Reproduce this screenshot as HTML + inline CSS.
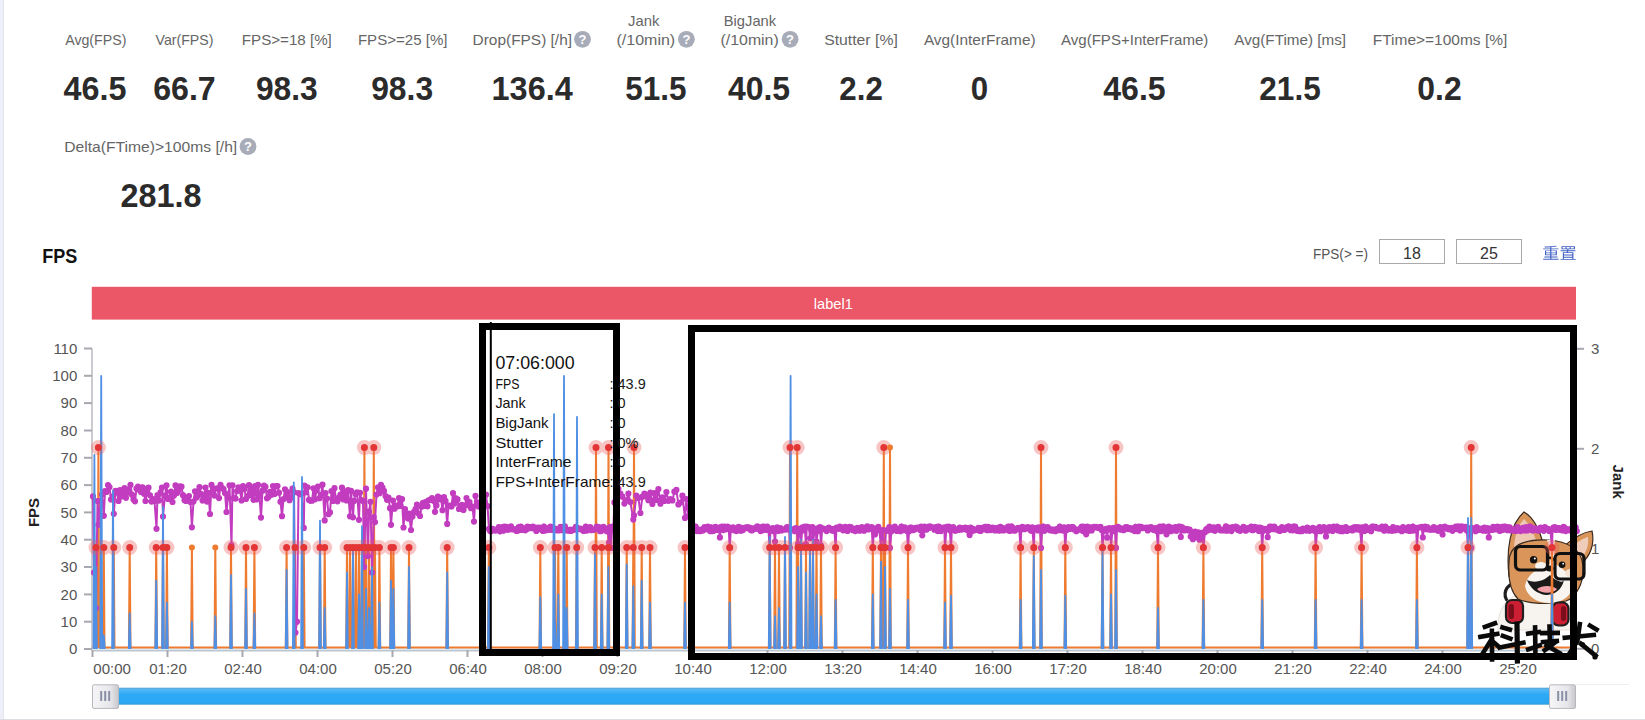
<!DOCTYPE html>
<html><head><meta charset="utf-8"><title>FPS</title>
<style>html,body{margin:0;padding:0;background:#fff;overflow:hidden}svg{display:block}text{font-family:"Liberation Sans",sans-serif}</style>
</head><body>
<svg width="1645" height="720" viewBox="0 0 1645 720">
<rect width="1645" height="720" fill="#fff"/>
<text x="65.2" y="45.0" font-size="14.5" fill="#666" text-anchor="start" font-weight="normal" textLength="61.2" lengthAdjust="spacingAndGlyphs">Avg(FPS)</text>
<text x="63.5" y="100.0" font-size="32.5" fill="#2b2b2b" text-anchor="start" font-weight="bold" textLength="62.9" lengthAdjust="spacingAndGlyphs">46.5</text>
<text x="155.5" y="45.0" font-size="14.5" fill="#666" text-anchor="start" font-weight="normal" textLength="57.9" lengthAdjust="spacingAndGlyphs">Var(FPS)</text>
<text x="153.2" y="100.0" font-size="32.5" fill="#2b2b2b" text-anchor="start" font-weight="bold" textLength="62.5" lengthAdjust="spacingAndGlyphs">66.7</text>
<text x="241.8" y="45.0" font-size="14.5" fill="#666" text-anchor="start" font-weight="normal" textLength="90.0" lengthAdjust="spacingAndGlyphs">FPS&gt;=18 [%]</text>
<text x="255.9" y="100.0" font-size="32.5" fill="#2b2b2b" text-anchor="start" font-weight="bold" textLength="61.8" lengthAdjust="spacingAndGlyphs">98.3</text>
<text x="357.9" y="45.0" font-size="14.5" fill="#666" text-anchor="start" font-weight="normal" textLength="89.6" lengthAdjust="spacingAndGlyphs">FPS&gt;=25 [%]</text>
<text x="371.2" y="100.0" font-size="32.5" fill="#2b2b2b" text-anchor="start" font-weight="bold" textLength="61.9" lengthAdjust="spacingAndGlyphs">98.3</text>
<text x="472.6" y="45.0" font-size="14.5" fill="#666" text-anchor="start" font-weight="normal" textLength="99.4" lengthAdjust="spacingAndGlyphs">Drop(FPS) [/h]</text>
<text x="491.6" y="100.0" font-size="32.5" fill="#2b2b2b" text-anchor="start" font-weight="bold" textLength="81.1" lengthAdjust="spacingAndGlyphs">136.4</text>
<text x="616.5" y="45.0" font-size="14.5" fill="#666" text-anchor="start" font-weight="normal" textLength="58.7" lengthAdjust="spacingAndGlyphs">(/10min)</text>
<text x="625.3" y="100.0" font-size="32.5" fill="#2b2b2b" text-anchor="start" font-weight="bold" textLength="61.2" lengthAdjust="spacingAndGlyphs">51.5</text>
<text x="720.6" y="45.0" font-size="14.5" fill="#666" text-anchor="start" font-weight="normal" textLength="58.1" lengthAdjust="spacingAndGlyphs">(/10min)</text>
<text x="727.9" y="100.0" font-size="32.5" fill="#2b2b2b" text-anchor="start" font-weight="bold" textLength="62.2" lengthAdjust="spacingAndGlyphs">40.5</text>
<text x="824.2" y="45.0" font-size="14.5" fill="#666" text-anchor="start" font-weight="normal" textLength="73.6" lengthAdjust="spacingAndGlyphs">Stutter [%]</text>
<text x="839.3" y="100.0" font-size="32.5" fill="#2b2b2b" text-anchor="start" font-weight="bold" textLength="43.5" lengthAdjust="spacingAndGlyphs">2.2</text>
<text x="923.9" y="45.0" font-size="14.5" fill="#666" text-anchor="start" font-weight="normal" textLength="111.7" lengthAdjust="spacingAndGlyphs">Avg(InterFrame)</text>
<text x="970.7" y="100.0" font-size="32.5" fill="#2b2b2b" text-anchor="start" font-weight="bold" textLength="17.4" lengthAdjust="spacingAndGlyphs">0</text>
<text x="1061.0" y="45.0" font-size="14.5" fill="#666" text-anchor="start" font-weight="normal" textLength="147.3" lengthAdjust="spacingAndGlyphs">Avg(FPS+InterFrame)</text>
<text x="1103.3" y="100.0" font-size="32.5" fill="#2b2b2b" text-anchor="start" font-weight="bold" textLength="62.4" lengthAdjust="spacingAndGlyphs">46.5</text>
<text x="1234.3" y="45.0" font-size="14.5" fill="#666" text-anchor="start" font-weight="normal" textLength="111.7" lengthAdjust="spacingAndGlyphs">Avg(FTime) [ms]</text>
<text x="1259.3" y="100.0" font-size="32.5" fill="#2b2b2b" text-anchor="start" font-weight="bold" textLength="61.4" lengthAdjust="spacingAndGlyphs">21.5</text>
<text x="1372.7" y="45.0" font-size="14.5" fill="#666" text-anchor="start" font-weight="normal" textLength="134.6" lengthAdjust="spacingAndGlyphs">FTime&gt;=100ms [%]</text>
<text x="1417.3" y="100.0" font-size="32.5" fill="#2b2b2b" text-anchor="start" font-weight="bold" textLength="44.4" lengthAdjust="spacingAndGlyphs">0.2</text>
<text x="628.0" y="26.1" font-size="14.5" fill="#666" text-anchor="start" font-weight="normal" textLength="31.3" lengthAdjust="spacingAndGlyphs">Jank</text>
<text x="723.8" y="26.1" font-size="14.5" fill="#666" text-anchor="start" font-weight="normal" textLength="52.3" lengthAdjust="spacingAndGlyphs">BigJank</text>
<circle cx="582.5" cy="39.3" r="8.4" fill="#a8acb8"/>
<text x="582.5" y="43.9" font-size="13" font-weight="bold" fill="#fff" text-anchor="middle">?</text>
<circle cx="686.4" cy="39.3" r="8.4" fill="#a8acb8"/>
<text x="686.4" y="43.9" font-size="13" font-weight="bold" fill="#fff" text-anchor="middle">?</text>
<circle cx="790.1" cy="39.3" r="8.4" fill="#a8acb8"/>
<text x="790.1" y="43.9" font-size="13" font-weight="bold" fill="#fff" text-anchor="middle">?</text>
<text x="64.2" y="152.2" font-size="14.5" fill="#666" text-anchor="start" font-weight="normal" textLength="173.0" lengthAdjust="spacingAndGlyphs">Delta(FTime)&gt;100ms [/h]</text>
<circle cx="248.0" cy="146.5" r="8.4" fill="#a8acb8"/>
<text x="248.0" y="151.1" font-size="13" font-weight="bold" fill="#fff" text-anchor="middle">?</text>
<text x="120.6" y="207.0" font-size="32.5" fill="#2b2b2b" text-anchor="start" font-weight="bold" textLength="81.0" lengthAdjust="spacingAndGlyphs">281.8</text>
<text x="42.2" y="263.0" font-size="20" fill="#111" text-anchor="start" font-weight="bold" textLength="35.1" lengthAdjust="spacingAndGlyphs">FPS</text>
<text x="1313" y="258.5" font-size="14" fill="#555" text-anchor="start" font-weight="normal" textLength="55" lengthAdjust="spacingAndGlyphs">FPS(&gt; =)</text>
<rect x="1379.5" y="239.5" width="65" height="24" fill="#fff" stroke="#a9a9a9" stroke-width="1"/>
<rect x="1456.5" y="239.5" width="65" height="24" fill="#fff" stroke="#a9a9a9" stroke-width="1"/>
<text x="1412" y="259" font-size="16" fill="#333" text-anchor="middle" font-weight="normal">18</text>
<text x="1489" y="259" font-size="16" fill="#333" text-anchor="middle" font-weight="normal">25</text>
<path transform="translate(1542.2,259.0) scale(1.08,1.0)" fill="#3f5fc4" d="M2.6 -8.6V-3.7H7.4V-2.5H2V-1.6H7.4V-0.2H0.9V0.7H15.2V-0.2H8.5V-1.6H14.2V-2.5H8.5V-3.7H13.6V-8.6H8.5V-9.7H15.1V-10.6H8.5V-11.9C10.4 -12 12.1 -12.2 13.5 -12.5L12.9 -13.3C10.4 -12.8 5.9 -12.5 2.1 -12.4C2.2 -12.2 2.4 -11.8 2.4 -11.6C4 -11.6 5.7 -11.7 7.4 -11.8V-10.6H0.9V-9.7H7.4V-8.6ZM3.6 -5.8H7.4V-4.5H3.6ZM8.5 -5.8H12.5V-4.5H8.5ZM3.6 -7.9H7.4V-6.6H3.6ZM8.5 -7.9H12.5V-6.6H8.5ZM26.4 -12H29.2V-10.5H26.4ZM22.6 -12H25.4V-10.5H22.6ZM18.9 -12H21.6V-10.5H18.9ZM19.1 -6.8V-0H16.9V0.8H31.1V-0H28.9V-6.8H23.8L24.1 -7.8H30.8V-8.7H24.2L24.4 -9.7H30.3V-12.8H17.9V-9.7H23.3L23.2 -8.7H17.1V-7.8H23L22.8 -6.8ZM20.1 -0V-1.1H27.8V-0ZM20.1 -4.4H27.8V-3.5H20.1ZM20.1 -5.1V-6.1H27.8V-5.1ZM20.1 -2.8H27.8V-1.8H20.1Z"/>
<rect x="91.8" y="286.8" width="1484.2" height="32.8" fill="#ec5767"/>
<text x="833.3" y="309.0" font-size="15" fill="#fff" text-anchor="middle" font-weight="normal" textLength="39" lengthAdjust="spacingAndGlyphs">label1</text>
<line x1="92" y1="348.5" x2="92" y2="650.5" stroke="#a8a8b0" stroke-width="1.2"/>
<line x1="84" y1="649.0" x2="92" y2="649.0" stroke="#a8a8b0" stroke-width="2"/>
<text x="77.3" y="654.3" font-size="15" fill="#555" text-anchor="end" font-weight="normal">0</text>
<line x1="84" y1="621.7" x2="92" y2="621.7" stroke="#a8a8b0" stroke-width="2"/>
<text x="77.3" y="626.9818181818181" font-size="15" fill="#555" text-anchor="end" font-weight="normal">10</text>
<line x1="84" y1="594.4" x2="92" y2="594.4" stroke="#a8a8b0" stroke-width="2"/>
<text x="77.3" y="599.6636363636363" font-size="15" fill="#555" text-anchor="end" font-weight="normal">20</text>
<line x1="84" y1="567.0" x2="92" y2="567.0" stroke="#a8a8b0" stroke-width="2"/>
<text x="77.3" y="572.3454545454545" font-size="15" fill="#555" text-anchor="end" font-weight="normal">30</text>
<line x1="84" y1="539.7" x2="92" y2="539.7" stroke="#a8a8b0" stroke-width="2"/>
<text x="77.3" y="545.0272727272727" font-size="15" fill="#555" text-anchor="end" font-weight="normal">40</text>
<line x1="84" y1="512.4" x2="92" y2="512.4" stroke="#a8a8b0" stroke-width="2"/>
<text x="77.3" y="517.7090909090908" font-size="15" fill="#555" text-anchor="end" font-weight="normal">50</text>
<line x1="84" y1="485.1" x2="92" y2="485.1" stroke="#a8a8b0" stroke-width="2"/>
<text x="77.3" y="490.39090909090913" font-size="15" fill="#555" text-anchor="end" font-weight="normal">60</text>
<line x1="84" y1="457.8" x2="92" y2="457.8" stroke="#a8a8b0" stroke-width="2"/>
<text x="77.3" y="463.07272727272726" font-size="15" fill="#555" text-anchor="end" font-weight="normal">70</text>
<line x1="84" y1="430.5" x2="92" y2="430.5" stroke="#a8a8b0" stroke-width="2"/>
<text x="77.3" y="435.75454545454545" font-size="15" fill="#555" text-anchor="end" font-weight="normal">80</text>
<line x1="84" y1="403.1" x2="92" y2="403.1" stroke="#a8a8b0" stroke-width="2"/>
<text x="77.3" y="408.43636363636364" font-size="15" fill="#555" text-anchor="end" font-weight="normal">90</text>
<line x1="84" y1="375.8" x2="92" y2="375.8" stroke="#a8a8b0" stroke-width="2"/>
<text x="77.3" y="381.1181818181818" font-size="15" fill="#555" text-anchor="end" font-weight="normal">100</text>
<line x1="84" y1="348.5" x2="92" y2="348.5" stroke="#a8a8b0" stroke-width="2"/>
<text x="77.3" y="353.8" font-size="15" fill="#555" text-anchor="end" font-weight="normal">110</text>
<text x="0" y="0" font-size="15" font-weight="bold" fill="#222" text-anchor="middle" transform="translate(38.6,512.5) rotate(-90)">FPS</text>
<line x1="1577" y1="648.8" x2="1584" y2="648.8" stroke="#a8a8b0" stroke-width="2"/>
<text x="1591" y="654.0999999999999" font-size="15" fill="#555" text-anchor="start" font-weight="normal">0</text>
<line x1="1577" y1="548.8" x2="1584" y2="548.8" stroke="#a8a8b0" stroke-width="2"/>
<text x="1591" y="554.0999999999999" font-size="15" fill="#555" text-anchor="start" font-weight="normal">1</text>
<line x1="1577" y1="448.8" x2="1584" y2="448.8" stroke="#a8a8b0" stroke-width="2"/>
<text x="1591" y="454.1" font-size="15" fill="#555" text-anchor="start" font-weight="normal">2</text>
<line x1="1577" y1="348.8" x2="1584" y2="348.8" stroke="#a8a8b0" stroke-width="2"/>
<text x="1591" y="354.1" font-size="15" fill="#555" text-anchor="start" font-weight="normal">3</text>
<text x="0" y="0" font-size="15" font-weight="bold" fill="#222" text-anchor="middle" transform="translate(1612.6,481.7) rotate(90)">Jank</text>
<line x1="92" y1="650.5" x2="1577.0" y2="650.5" stroke="#bcc6d0" stroke-width="2"/>
<line x1="92" y1="648.8" x2="1577.0" y2="648.8" stroke="#dff2f8" stroke-width="1.5"/>
<line x1="92.5" y1="650" x2="92.5" y2="657" stroke="#a8a8b0" stroke-width="2"/>
<text x="93.3" y="673.6" font-size="15" fill="#555" text-anchor="start" font-weight="normal" textLength="37.7" lengthAdjust="spacingAndGlyphs">00:00</text>
<line x1="167.5" y1="650" x2="167.5" y2="657" stroke="#a8a8b0" stroke-width="2"/>
<text x="168.0" y="673.6" font-size="15" fill="#555" text-anchor="middle" font-weight="normal" textLength="37.6" lengthAdjust="spacingAndGlyphs">01:20</text>
<line x1="242.5" y1="650" x2="242.5" y2="657" stroke="#a8a8b0" stroke-width="2"/>
<text x="243.0" y="673.6" font-size="15" fill="#555" text-anchor="middle" font-weight="normal" textLength="37.6" lengthAdjust="spacingAndGlyphs">02:40</text>
<line x1="317.5" y1="650" x2="317.5" y2="657" stroke="#a8a8b0" stroke-width="2"/>
<text x="318.0" y="673.6" font-size="15" fill="#555" text-anchor="middle" font-weight="normal" textLength="37.6" lengthAdjust="spacingAndGlyphs">04:00</text>
<line x1="392.5" y1="650" x2="392.5" y2="657" stroke="#a8a8b0" stroke-width="2"/>
<text x="393.0" y="673.6" font-size="15" fill="#555" text-anchor="middle" font-weight="normal" textLength="37.6" lengthAdjust="spacingAndGlyphs">05:20</text>
<line x1="467.5" y1="650" x2="467.5" y2="657" stroke="#a8a8b0" stroke-width="2"/>
<text x="468.0" y="673.6" font-size="15" fill="#555" text-anchor="middle" font-weight="normal" textLength="37.6" lengthAdjust="spacingAndGlyphs">06:40</text>
<line x1="542.5" y1="650" x2="542.5" y2="657" stroke="#a8a8b0" stroke-width="2"/>
<text x="543.0" y="673.6" font-size="15" fill="#555" text-anchor="middle" font-weight="normal" textLength="37.6" lengthAdjust="spacingAndGlyphs">08:00</text>
<line x1="617.5" y1="650" x2="617.5" y2="657" stroke="#a8a8b0" stroke-width="2"/>
<text x="618.0" y="673.6" font-size="15" fill="#555" text-anchor="middle" font-weight="normal" textLength="37.6" lengthAdjust="spacingAndGlyphs">09:20</text>
<line x1="692.5" y1="650" x2="692.5" y2="657" stroke="#a8a8b0" stroke-width="2"/>
<text x="693.0" y="673.6" font-size="15" fill="#555" text-anchor="middle" font-weight="normal" textLength="37.6" lengthAdjust="spacingAndGlyphs">10:40</text>
<line x1="767.5" y1="650" x2="767.5" y2="657" stroke="#a8a8b0" stroke-width="2"/>
<text x="768.0" y="673.6" font-size="15" fill="#555" text-anchor="middle" font-weight="normal" textLength="37.6" lengthAdjust="spacingAndGlyphs">12:00</text>
<line x1="842.5" y1="650" x2="842.5" y2="657" stroke="#a8a8b0" stroke-width="2"/>
<text x="843.0" y="673.6" font-size="15" fill="#555" text-anchor="middle" font-weight="normal" textLength="37.6" lengthAdjust="spacingAndGlyphs">13:20</text>
<line x1="917.5" y1="650" x2="917.5" y2="657" stroke="#a8a8b0" stroke-width="2"/>
<text x="918.0" y="673.6" font-size="15" fill="#555" text-anchor="middle" font-weight="normal" textLength="37.6" lengthAdjust="spacingAndGlyphs">14:40</text>
<line x1="992.5" y1="650" x2="992.5" y2="657" stroke="#a8a8b0" stroke-width="2"/>
<text x="993.0" y="673.6" font-size="15" fill="#555" text-anchor="middle" font-weight="normal" textLength="37.6" lengthAdjust="spacingAndGlyphs">16:00</text>
<line x1="1067.5" y1="650" x2="1067.5" y2="657" stroke="#a8a8b0" stroke-width="2"/>
<text x="1068.0" y="673.6" font-size="15" fill="#555" text-anchor="middle" font-weight="normal" textLength="37.6" lengthAdjust="spacingAndGlyphs">17:20</text>
<line x1="1142.5" y1="650" x2="1142.5" y2="657" stroke="#a8a8b0" stroke-width="2"/>
<text x="1143.0" y="673.6" font-size="15" fill="#555" text-anchor="middle" font-weight="normal" textLength="37.6" lengthAdjust="spacingAndGlyphs">18:40</text>
<line x1="1217.5" y1="650" x2="1217.5" y2="657" stroke="#a8a8b0" stroke-width="2"/>
<text x="1218.0" y="673.6" font-size="15" fill="#555" text-anchor="middle" font-weight="normal" textLength="37.6" lengthAdjust="spacingAndGlyphs">20:00</text>
<line x1="1292.5" y1="650" x2="1292.5" y2="657" stroke="#a8a8b0" stroke-width="2"/>
<text x="1293.0" y="673.6" font-size="15" fill="#555" text-anchor="middle" font-weight="normal" textLength="37.6" lengthAdjust="spacingAndGlyphs">21:20</text>
<line x1="1367.5" y1="650" x2="1367.5" y2="657" stroke="#a8a8b0" stroke-width="2"/>
<text x="1368.0" y="673.6" font-size="15" fill="#555" text-anchor="middle" font-weight="normal" textLength="37.6" lengthAdjust="spacingAndGlyphs">22:40</text>
<line x1="1442.5" y1="650" x2="1442.5" y2="657" stroke="#a8a8b0" stroke-width="2"/>
<text x="1443.0" y="673.6" font-size="15" fill="#555" text-anchor="middle" font-weight="normal" textLength="37.6" lengthAdjust="spacingAndGlyphs">24:00</text>
<line x1="1517.5" y1="650" x2="1517.5" y2="657" stroke="#a8a8b0" stroke-width="2"/>
<text x="1518.0" y="673.6" font-size="15" fill="#555" text-anchor="middle" font-weight="normal" textLength="37.6" lengthAdjust="spacingAndGlyphs">25:20</text>
<g id="dog">
<path d="M1511 604 C1502 598 1504 588 1512 584" fill="none" stroke="#1e1e1e" stroke-width="3.2"/>
<path d="M1566 606 C1574 600 1574 592 1570 586" fill="none" stroke="#1e1e1e" stroke-width="2.5"/>
<path d="M1498 630 C1497 614 1503 602 1514 596 L1568 598 C1575 606 1578 618 1576 630 Z" fill="#f7f4f0" stroke="#d8d0c8" stroke-width="0.6"/>
<path d="M1509 576 C1506 550 1510 524 1524 512 C1533 517 1540 530 1543 543 Z" fill="#d9955a" stroke="#3a2a20" stroke-width="1.2"/>
<path d="M1514 560 C1513 542 1516 527 1524 519 C1530 525 1535 535 1537 545 Z" fill="#f0cdbb" opacity="0.9"/>
<path d="M1563 547 C1573 538 1584 532 1592 531 C1595 544 1590 556 1582 563 Z" fill="#d9955a" stroke="#3a2a20" stroke-width="1.2"/>
<path d="M1569 548 C1577 542 1584 538 1588 537 C1589 546 1586 553 1581 558 Z" fill="#f0cdbb"/>
<path d="M1509 562 C1509 546 1522 539 1548 540 C1568 541 1582 550 1583 566 C1584 584 1576 597 1566 601 C1550 605 1528 604 1518 599 C1510 591 1508 576 1509 562 Z" fill="#d9955a" stroke="#3a2a20" stroke-width="1.2"/>
<path d="M1547 540 C1550 548 1551 556 1550 564 C1538 568 1527 574 1525 586 C1527 598 1540 604 1552 603 C1564 602 1573 594 1573 584 C1571 574 1562 568 1555 564 C1554 556 1554 548 1555 540 Z" fill="#f8f4ef"/>
<ellipse cx="1541" cy="566" rx="6" ry="4" fill="#f8f4ef"/>
<ellipse cx="1570" cy="573" rx="5" ry="4" fill="#f3e2d2"/>
<rect x="1515.5" y="546.5" width="32" height="23.5" rx="5" fill="none" stroke="#111" stroke-width="3.2"/>
<rect x="1555" y="553.5" width="29" height="25.5" rx="5" fill="none" stroke="#111" stroke-width="3.2"/>
<path d="M1547.5 558 C1550 557 1552 558 1555 560" fill="none" stroke="#111" stroke-width="2.8"/>
<circle cx="1533.6" cy="559.7" r="3.7" fill="#111"/><circle cx="1534.8" cy="558.5" r="1" fill="#fff"/>
<circle cx="1562.1" cy="564.8" r="3.3" fill="#111"/><circle cx="1563.2" cy="563.7" r="0.9" fill="#fff"/>
<ellipse cx="1549.7" cy="568.5" rx="4" ry="3" fill="#111"/>
<path d="M1527 580 C1536 584 1545 580 1550 575 C1555 580 1562 584 1564 580 C1562 590 1554 595 1546 595 C1537 594 1530 588 1527 580 Z" fill="#1a1a1a"/>
<path d="M1537 589 C1542 585 1552 585 1557 589 C1553 594 1541 594 1537 589 Z" fill="#f2a4aa"/>
<rect x="1506" y="600" width="17" height="23" rx="6" fill="#cc1f33" stroke="#1e1e1e" stroke-width="2.2"/>
<rect x="1508.5" y="604" width="5.5" height="15" rx="2.5" fill="#7a0e1a"/>
<rect x="1552.5" y="602.5" width="16" height="23" rx="6" fill="#cc1f33" stroke="#1e1e1e" stroke-width="2.2"/>
<rect x="1561" y="606" width="5" height="15" rx="2.5" fill="#7a0e1a"/>
</g>
<path d="M92.5 647.5 L95.2 647.5 L96.0 547.5 L96.8 647.5 L97.6 647.5 L98.4 447.5 L99.2 647.5 L103.0 647.5 L103.8 547.5 L104.5 647.5 L113.0 647.5 L113.8 547.5 L114.5 647.5 L128.9 647.5 L129.7 547.5 L130.5 647.5 L155.4 647.5 L156.2 547.5 L157.1 647.5 L162.2 647.5 L163.0 547.5 L163.8 647.5 L166.1 647.5 L166.9 547.5 L167.7 647.5 L191.1 647.5 L191.9 547.5 L192.7 647.5 L214.5 647.5 L215.3 547.5 L216.1 647.5 L230.2 647.5 L231.0 547.5 L231.8 647.5 L245.2 647.5 L246.0 547.5 L246.8 647.5 L253.6 647.5 L254.4 547.5 L255.2 647.5 L285.8 647.5 L286.6 547.5 L287.4 647.5 L294.2 647.5 L295.0 547.5 L295.8 647.5 L302.9 647.5 L303.8 547.5 L304.6 647.5 L319.2 647.5 L320.0 547.5 L320.8 647.5 L323.9 647.5 L324.7 547.5 L325.5 647.5 L346.2 647.5 L347.0 547.5 L347.8 647.5 L349.2 647.5 L350.0 547.5 L350.8 647.5 L352.2 647.5 L353.0 547.5 L353.8 647.5 L355.2 647.5 L356.0 547.5 L356.8 647.5 L358.2 647.5 L359.0 547.5 L359.8 647.5 L361.2 647.5 L362.0 547.5 L362.8 647.5 L363.6 647.5 L364.4 447.5 L365.2 647.5 L365.2 647.5 L366.0 547.5 L366.8 647.5 L368.2 647.5 L369.0 547.5 L369.8 647.5 L371.2 647.5 L372.0 547.5 L372.8 647.5 L372.9 647.5 L373.8 447.5 L374.6 647.5 L374.2 647.5 L375.0 547.5 L375.8 647.5 L378.6 647.5 L379.4 547.5 L380.2 647.5 L390.2 647.5 L391.0 547.5 L391.8 647.5 L392.6 647.5 L393.4 547.5 L394.2 647.5 L408.2 647.5 L409.0 547.5 L409.8 647.5 L446.4 647.5 L447.2 547.5 L448.0 647.5 L487.9 647.5 L488.8 547.5 L489.6 647.5 L539.5 647.5 L540.3 547.5 L541.1 647.5 L554.2 647.5 L555.0 547.5 L555.8 647.5 L557.5 647.5 L558.3 547.5 L559.1 647.5 L565.9 647.5 L566.7 547.5 L567.5 647.5 L575.9 647.5 L576.7 547.5 L577.5 647.5 L594.2 647.5 L595.0 547.5 L595.8 647.5 L595.2 647.5 L596.0 447.5 L596.8 647.5 L600.9 647.5 L601.7 547.5 L602.5 647.5 L607.5 647.5 L608.3 547.5 L609.1 647.5 L607.7 647.5 L608.5 447.5 L609.3 647.5 L625.9 647.5 L626.7 547.5 L627.5 647.5 L632.5 647.5 L633.3 547.5 L634.1 647.5 L633.2 647.5 L634.0 447.5 L634.8 647.5 L640.9 647.5 L641.7 547.5 L642.5 647.5 L649.2 647.5 L650.0 547.5 L650.8 647.5 L684.2 647.5 L685.0 547.5 L685.8 647.5 L728.9 647.5 L729.7 547.5 L730.5 647.5 L768.9 647.5 L769.7 547.5 L770.5 647.5 L774.2 647.5 L775.0 547.5 L775.8 647.5 L778.2 647.5 L779.0 547.5 L779.8 647.5 L784.2 647.5 L785.0 547.5 L785.8 647.5 L789.2 647.5 L790.0 447.5 L790.8 647.5 L796.4 647.5 L797.2 447.5 L798.0 647.5 L797.2 647.5 L798.0 547.5 L798.8 647.5 L800.2 647.5 L801.0 547.5 L801.8 647.5 L805.2 647.5 L806.0 547.5 L806.8 647.5 L809.2 647.5 L810.0 547.5 L810.8 647.5 L812.2 647.5 L813.0 547.5 L813.8 647.5 L815.7 647.5 L816.5 547.5 L817.3 647.5 L820.2 647.5 L821.0 547.5 L821.8 647.5 L834.8 647.5 L835.6 547.5 L836.4 647.5 L872.0 647.5 L872.8 547.5 L873.6 647.5 L880.2 647.5 L881.0 547.5 L881.8 647.5 L883.0 647.5 L883.8 447.5 L884.5 647.5 L884.2 647.5 L885.0 547.5 L885.8 647.5 L889.2 647.5 L890.0 447.5 L890.8 647.5 L907.2 647.5 L908.0 547.5 L908.8 647.5 L944.2 647.5 L945.0 547.5 L945.8 647.5 L950.2 647.5 L951.0 547.5 L951.8 647.5 L1019.8 647.5 L1020.6 547.5 L1021.4 647.5 L1033.0 647.5 L1033.8 547.5 L1034.5 647.5 L1040.2 647.5 L1041.0 447.5 L1041.8 647.5 L1064.5 647.5 L1065.3 547.5 L1066.1 647.5 L1101.7 647.5 L1102.5 547.5 L1103.3 647.5 L1110.2 647.5 L1111.0 547.5 L1111.8 647.5 L1115.2 647.5 L1116.0 447.5 L1116.8 647.5 L1157.2 647.5 L1158.0 547.5 L1158.8 647.5 L1202.6 647.5 L1203.4 547.5 L1204.2 647.5 L1261.4 647.5 L1262.2 547.5 L1263.0 647.5 L1314.8 647.5 L1315.6 547.5 L1316.4 647.5 L1360.8 647.5 L1361.6 547.5 L1362.4 647.5 L1416.1 647.5 L1416.9 547.5 L1417.7 647.5 L1467.2 647.5 L1468.0 547.5 L1468.8 647.5 L1470.5 647.5 L1471.2 447.5 L1472.0 647.5 L1551.2 647.5 L1552.0 547.5 L1552.8 647.5 L1577.0 647.5" fill="none" stroke="#ee7b30" stroke-width="2" stroke-linejoin="round"/>
<path d="M93.0 496.4 L94.0 572.5 L96.0 608.0 L97.5 501.0 L98.4 524.8 L100.5 500.8 L102.0 494.6 L103.8 515.8 L105.0 491.1 L106.5 491.9 L108.0 485.0 L109.5 487.0 L111.0 499.5 L112.5 496.6 L113.8 513.8 L115.5 490.9 L117.0 492.5 L118.5 501.0 L120.0 490.1 L121.5 496.5 L123.0 494.1 L124.5 488.1 L126.0 497.8 L127.5 492.8 L129.0 489.3 L130.5 484.9 L132.0 494.7 L133.5 499.4 L135.0 501.3 L136.5 488.7 L138.0 486.7 L139.5 489.9 L141.0 491.9 L142.5 487.3 L144.0 493.7 L145.5 501.0 L147.0 490.7 L148.5 487.7 L150.0 495.3 L151.5 501.6 L153.0 499.1 L154.5 501.0 L156.5 528.8 L157.5 495.2 L159.0 500.6 L160.5 492.4 L162.0 487.7 L163.0 516.5 L165.0 495.8 L166.5 485.3 L168.0 498.9 L169.5 497.9 L171.0 491.7 L172.5 502.0 L174.0 495.6 L175.5 485.4 L177.0 493.0 L178.5 490.2 L180.0 486.3 L181.5 486.7 L183.0 495.2 L184.5 500.2 L186.0 500.9 L187.5 498.4 L189.0 496.1 L190.5 502.0 L191.9 527.3 L193.5 501.6 L195.0 491.3 L196.5 497.6 L198.0 495.7 L199.5 487.2 L201.0 493.9 L202.5 500.5 L204.0 496.0 L205.5 487.5 L207.0 501.6 L208.5 492.8 L210.0 514.0 L211.5 484.9 L213.0 489.9 L214.5 495.6 L216.0 488.5 L217.5 488.4 L219.0 498.1 L220.5 484.8 L222.0 487.9 L223.5 489.1 L225.0 493.0 L226.5 512.0 L228.0 497.5 L229.5 485.3 L231.5 545.2 L232.5 485.3 L234.0 498.2 L235.5 498.6 L237.0 491.1 L238.5 487.3 L240.0 490.6 L241.5 500.5 L243.0 486.1 L244.5 488.9 L246.0 498.9 L247.5 496.2 L249.0 485.0 L250.5 495.0 L252.0 489.4 L253.5 499.8 L255.0 486.2 L256.5 499.5 L258.0 484.9 L259.5 495.9 L261.0 517.6 L262.5 490.7 L264.0 485.7 L265.5 486.8 L267.0 498.3 L268.5 496.9 L270.0 491.8 L271.5 494.7 L273.0 486.1 L274.5 494.0 L276.0 486.2 L277.5 486.0 L279.0 492.7 L280.5 501.7 L282.0 516.2 L283.5 499.0 L285.0 489.3 L286.5 496.3 L288.0 492.3 L289.5 500.2 L291.0 497.7 L292.5 488.5 L294.0 492.2 L295.5 632.6 L297.0 621.7 L298.5 493.1 L300.0 494.1 L301.5 493.7 L303.8 527.9 L304.5 485.6 L306.0 492.2 L307.5 487.3 L309.0 499.9 L310.5 500.8 L312.0 500.7 L313.5 488.3 L315.0 499.3 L316.5 490.5 L318.0 486.6 L319.5 498.2 L321.0 495.1 L322.5 484.7 L324.7 520.4 L325.5 493.0 L327.0 498.6 L328.5 514.2 L330.0 512.4 L331.5 491.1 L333.0 500.9 L334.5 488.2 L336.0 500.2 L337.5 501.3 L339.0 497.3 L340.5 494.6 L342.0 487.7 L343.5 499.4 L345.0 492.1 L346.5 500.5 L348.0 490.0 L350.0 516.3 L351.0 490.9 L353.0 517.3 L354.0 500.9 L355.5 494.1 L357.0 492.4 L359.0 519.8 L360.0 492.8 L361.5 500.1 L363.0 501.1 L364.0 567.0 L366.0 488.7 L368.0 556.1 L369.0 511.7 L370.5 501.8 L372.0 572.5 L373.8 517.2 L375.0 522.1 L376.5 494.5 L378.0 487.4 L379.5 493.2 L381.0 484.9 L382.5 487.5 L384.0 490.9 L385.5 496.0 L387.0 499.8 L388.5 497.5 L390.0 508.2 L391.0 524.8 L393.0 500.6 L394.5 508.7 L396.0 505.6 L397.5 506.4 L399.0 498.0 L400.5 505.9 L402.0 499.2 L403.5 527.5 L405.0 509.1 L406.5 514.5 L408.0 518.5 L409.0 513.5 L411.0 530.0 L412.5 516.5 L414.0 511.9 L415.5 509.0 L417.0 504.5 L418.5 513.6 L420.0 516.0 L421.5 506.8 L423.0 502.8 L424.5 505.8 L426.0 501.9 L427.5 506.3 L429.0 500.2 L430.5 499.8 L432.0 498.0 L433.5 500.8 L435.0 511.8 L436.5 505.4 L438.0 496.5 L439.5 499.5 L441.0 498.3 L442.5 510.2 L444.0 497.1 L445.5 500.9 L447.2 523.9 L448.5 505.8 L450.0 505.6 L451.5 506.6 L453.0 493.2 L454.5 503.5 L456.0 498.3 L457.5 499.4 L459.0 508.9 L460.5 505.8 L462.0 504.9 L463.5 510.0 L465.0 505.5 L466.5 498.1 L468.0 505.1 L469.5 502.1 L471.0 508.2 L472.5 506.7 L474.0 521.6 L475.5 495.9 L477.0 502.4 L478.5 506.6 L480.0 506.5 L481.5 507.7 L483.0 493.6 L484.5 495.9 L486.0 494.7 L487.5 506.2 L489.0 528.9 L490.1 531.1 L491.2 531.2 L492.3 528.8 L493.4 529.0 L494.5 529.8 L495.6 530.6 L496.7 529.6 L497.8 529.7 L498.9 527.1 L500.0 531.3 L501.1 527.6 L502.2 527.1 L503.3 530.7 L504.4 526.7 L505.5 527.8 L506.6 526.8 L507.7 529.8 L508.8 529.4 L509.9 529.3 L511.0 526.3 L512.1 528.4 L513.2 529.5 L514.3 529.2 L515.4 529.9 L516.5 531.0 L517.6 530.8 L518.7 527.2 L519.8 529.9 L520.9 526.7 L522.0 530.0 L523.1 530.0 L524.2 528.7 L525.3 530.3 L526.4 529.4 L527.5 526.6 L528.6 526.9 L529.7 527.3 L530.8 528.2 L531.9 526.8 L533.0 526.6 L534.1 528.6 L535.2 527.7 L536.3 531.0 L537.4 527.7 L538.5 529.0 L539.6 527.6 L540.7 528.1 L541.8 529.9 L542.9 531.0 L544.0 526.7 L545.1 530.6 L546.2 528.9 L547.3 529.6 L548.4 529.8 L549.5 527.6 L550.6 526.5 L551.7 530.0 L552.8 528.0 L553.9 529.8 L555.0 528.5 L556.1 529.3 L557.2 530.4 L558.3 530.5 L559.4 530.2 L560.5 526.8 L561.6 528.8 L562.7 530.2 L563.8 526.8 L564.9 526.4 L566.0 529.0 L567.1 530.6 L568.2 530.3 L569.3 530.8 L570.4 529.6 L571.5 530.8 L572.6 530.1 L573.7 530.0 L574.8 528.5 L575.9 526.9 L577.0 527.6 L578.1 529.2 L579.2 529.2 L580.3 528.7 L581.4 529.4 L582.5 529.6 L583.6 531.0 L584.7 529.9 L585.8 526.5 L586.9 530.6 L588.0 528.8 L589.1 528.2 L590.2 527.0 L591.3 530.2 L592.4 529.9 L593.5 530.0 L594.6 529.3 L595.7 529.1 L596.8 526.6 L597.9 527.1 L599.0 527.0 L600.1 531.2 L601.2 531.1 L602.3 527.8 L603.4 526.9 L604.5 528.9 L605.6 528.4 L606.7 531.3 L607.8 529.3 L609.0 542.5 L610.0 527.2 L611.0 547.9 L612.2 526.5 L613.3 530.0 L614.4 502.4 L616.4 495.7 L618.4 488.8 L620.4 493.6 L622.4 496.7 L624.4 503.6 L626.4 500.4 L628.4 493.6 L630.4 502.1 L633.3 519.6 L634.0 515.4 L636.4 495.6 L638.4 497.9 L640.4 513.0 L642.4 496.7 L644.4 493.6 L646.4 496.4 L648.4 500.2 L650.4 492.7 L652.4 503.9 L654.4 493.2 L656.4 500.0 L658.4 489.0 L660.4 503.7 L662.4 497.3 L664.4 501.0 L666.4 492.1 L668.4 500.8 L670.4 499.1 L672.4 500.4 L674.4 491.7 L676.4 489.9 L678.4 504.4 L680.4 502.5 L682.4 495.7 L685.0 517.9 L686.4 499.1 L688.4 516.2 L690.4 512.5 L692.4 526.9 L693.5 526.4 L694.6 529.6 L695.7 526.7 L696.8 531.1 L697.9 529.4 L699.0 529.6 L700.1 531.2 L701.2 529.5 L702.3 530.7 L703.4 530.2 L704.5 527.2 L705.6 529.1 L706.7 528.9 L707.8 526.7 L708.9 529.5 L710.0 531.1 L711.1 527.3 L712.2 531.1 L713.3 531.0 L714.4 530.0 L715.5 526.8 L716.6 529.9 L717.7 528.2 L718.8 527.7 L719.9 537.4 L721.0 526.8 L722.1 526.6 L723.2 530.1 L724.3 526.6 L725.4 529.4 L726.5 529.1 L727.6 526.7 L728.7 527.3 L729.7 547.9 L730.9 528.3 L732.0 529.7 L733.1 527.4 L734.2 530.3 L735.3 530.0 L736.4 531.1 L737.5 529.7 L738.6 526.9 L739.7 530.0 L740.8 530.8 L741.9 527.8 L743.0 530.1 L744.1 528.2 L745.2 527.6 L746.3 528.0 L747.4 527.1 L748.5 528.5 L749.6 527.6 L750.7 530.0 L751.8 530.5 L752.9 528.4 L754.0 529.3 L755.1 528.8 L756.2 527.3 L757.3 526.4 L758.4 528.9 L759.5 527.1 L760.6 531.1 L761.7 530.7 L762.8 526.5 L763.9 526.7 L765.0 527.0 L766.1 530.0 L767.2 526.6 L768.3 528.3 L769.7 547.9 L770.5 530.6 L771.6 530.0 L772.7 528.1 L773.8 531.2 L775.0 541.6 L776.0 529.7 L777.1 527.3 L778.2 530.9 L779.3 529.3 L780.4 528.1 L781.5 530.5 L782.6 529.2 L783.7 529.7 L784.8 529.7 L785.9 529.5 L787.0 527.0 L788.1 529.5 L789.2 527.7 L790.0 547.8 L791.4 529.2 L792.5 529.3 L793.6 529.0 L794.7 531.2 L795.8 528.1 L796.9 530.8 L798.0 544.0 L799.1 530.5 L800.2 528.7 L801.0 545.1 L802.4 527.3 L803.5 530.3 L804.6 526.6 L806.0 544.1 L806.8 526.7 L807.9 526.8 L809.0 527.2 L810.0 538.3 L811.2 529.3 L812.3 527.2 L813.0 546.4 L814.5 528.7 L815.6 530.7 L816.5 541.5 L817.8 531.1 L818.9 527.5 L820.0 527.1 L821.0 545.6 L822.2 528.2 L823.3 529.2 L824.4 529.2 L825.5 529.1 L826.6 531.1 L827.7 528.9 L828.8 527.5 L829.9 529.0 L831.0 528.9 L832.1 530.6 L833.2 530.8 L834.3 528.8 L835.6 547.9 L836.5 527.7 L837.6 528.7 L838.7 528.8 L839.8 526.6 L840.9 527.0 L842.0 527.7 L843.1 530.3 L844.2 528.8 L845.3 526.8 L846.4 527.4 L847.5 530.9 L848.6 527.5 L849.7 526.9 L850.8 527.2 L851.9 528.8 L853.0 530.2 L854.1 528.8 L855.2 531.1 L856.3 530.5 L857.4 527.9 L858.5 530.4 L859.6 530.7 L860.7 528.1 L861.8 527.0 L862.9 528.4 L864.0 530.7 L865.1 528.2 L866.2 527.3 L867.3 526.4 L868.4 529.5 L869.5 529.1 L870.6 527.6 L871.7 527.2 L872.8 547.9 L873.9 528.4 L875.0 534.4 L876.1 530.5 L877.2 529.1 L878.3 526.9 L879.4 530.1 L881.0 547.9 L881.6 530.7 L882.7 530.2 L883.8 547.9 L885.0 547.9 L886.0 530.6 L887.1 530.1 L888.2 530.8 L889.3 527.0 L890.0 547.9 L891.5 531.2 L892.6 528.5 L893.7 528.1 L894.8 526.7 L895.9 530.0 L897.0 531.0 L898.1 529.3 L899.2 531.0 L900.3 531.2 L901.4 526.6 L902.5 530.3 L903.6 528.8 L904.7 527.3 L905.8 529.7 L906.9 531.0 L908.0 547.9 L909.1 531.2 L910.2 527.6 L911.3 527.6 L912.4 530.1 L913.5 530.1 L914.6 529.6 L915.7 527.8 L916.8 527.8 L917.9 528.5 L919.0 527.4 L920.1 530.0 L921.2 526.5 L922.3 535.3 L923.4 530.1 L924.5 526.6 L925.6 529.7 L926.7 529.6 L927.8 526.8 L928.9 527.9 L930.0 526.4 L931.1 527.1 L932.2 527.0 L933.3 527.7 L934.4 529.7 L935.5 528.2 L936.6 526.8 L937.7 531.1 L938.8 526.7 L939.9 530.6 L941.0 531.1 L942.1 528.1 L943.2 527.6 L944.3 528.4 L945.0 547.9 L946.5 526.9 L947.6 527.0 L948.7 526.6 L949.8 530.2 L951.0 547.9 L952.0 527.3 L953.1 527.2 L954.2 529.8 L955.3 530.8 L956.4 530.3 L957.5 529.2 L958.6 530.0 L959.7 527.7 L960.8 529.7 L961.9 528.8 L963.0 528.2 L964.1 529.2 L965.2 527.5 L966.3 527.8 L967.4 530.2 L968.5 530.8 L969.6 535.1 L970.7 527.5 L971.8 531.2 L972.9 528.8 L974.0 530.4 L975.1 529.6 L976.2 530.0 L977.3 529.9 L978.4 527.8 L979.5 530.7 L980.6 530.9 L981.7 527.8 L982.8 528.2 L983.9 529.3 L985.0 526.9 L986.1 526.9 L987.2 530.2 L988.3 526.8 L989.4 529.4 L990.5 530.1 L991.6 528.6 L992.7 527.6 L993.8 529.5 L994.9 530.5 L996.0 528.0 L997.1 530.4 L998.2 527.5 L999.3 530.6 L1000.4 526.9 L1001.5 530.3 L1002.6 527.8 L1003.7 530.5 L1004.8 530.0 L1005.9 528.7 L1007.0 529.6 L1008.1 526.5 L1009.2 530.8 L1010.3 530.8 L1011.4 526.4 L1012.5 527.7 L1013.6 530.3 L1014.7 530.7 L1015.8 529.3 L1016.9 529.3 L1018.0 527.8 L1019.1 528.1 L1020.6 547.9 L1021.3 529.3 L1022.4 526.8 L1023.5 528.4 L1024.6 529.2 L1025.7 527.7 L1026.8 527.5 L1027.9 527.1 L1029.0 528.1 L1030.1 529.7 L1031.2 530.8 L1032.3 527.4 L1033.8 547.9 L1034.5 529.2 L1035.6 528.2 L1036.7 527.9 L1037.8 530.4 L1038.9 527.4 L1040.0 528.8 L1041.0 547.9 L1042.2 530.5 L1043.3 526.6 L1044.4 530.8 L1045.5 528.6 L1046.6 528.7 L1047.7 527.2 L1048.8 529.2 L1049.9 530.2 L1051.0 529.3 L1052.1 530.7 L1053.2 529.5 L1054.3 529.9 L1055.4 531.2 L1056.5 529.2 L1057.6 529.5 L1058.7 530.2 L1059.8 526.6 L1060.9 530.2 L1062.0 529.3 L1063.1 530.6 L1064.2 527.3 L1065.3 547.9 L1066.4 530.1 L1067.5 529.5 L1068.6 527.2 L1069.7 529.0 L1070.8 528.6 L1071.9 527.2 L1073.0 527.1 L1074.1 529.4 L1075.2 529.2 L1076.3 531.2 L1077.4 529.9 L1078.5 529.8 L1079.6 529.2 L1080.7 528.0 L1081.8 526.7 L1082.9 531.0 L1084.0 526.8 L1085.1 530.6 L1086.2 534.3 L1087.3 526.6 L1088.4 530.0 L1089.5 530.6 L1090.6 527.4 L1091.7 530.5 L1092.8 527.4 L1093.9 526.9 L1095.0 527.4 L1096.1 526.9 L1097.2 527.1 L1098.3 527.9 L1099.4 527.6 L1100.5 526.9 L1101.6 530.0 L1102.5 547.9 L1103.8 531.0 L1104.9 530.5 L1106.0 528.8 L1107.1 537.7 L1108.2 529.0 L1109.3 528.0 L1110.4 529.4 L1111.0 547.9 L1112.6 528.1 L1113.7 531.1 L1114.8 527.9 L1116.0 547.9 L1117.0 528.7 L1118.1 526.8 L1119.2 527.7 L1120.3 529.6 L1121.4 529.5 L1122.5 528.7 L1123.6 530.2 L1124.7 529.2 L1125.8 527.2 L1126.9 527.2 L1128.0 528.8 L1129.1 528.8 L1130.2 528.0 L1131.3 529.6 L1132.4 529.8 L1133.5 528.1 L1134.6 531.1 L1135.7 526.9 L1136.8 531.0 L1137.9 531.2 L1139.0 526.7 L1140.1 528.0 L1141.2 526.8 L1142.3 528.2 L1143.4 527.8 L1144.5 527.9 L1145.6 528.0 L1146.7 527.5 L1147.8 530.4 L1148.9 527.5 L1150.0 528.0 L1151.1 527.2 L1152.2 528.5 L1153.3 529.8 L1154.4 529.7 L1155.5 528.1 L1156.6 531.0 L1158.0 547.9 L1158.8 527.3 L1159.9 526.7 L1161.0 531.2 L1162.1 528.3 L1163.2 526.4 L1164.3 529.2 L1165.4 528.1 L1166.5 534.3 L1167.6 527.9 L1168.7 526.5 L1169.8 527.0 L1170.9 531.2 L1172.0 530.1 L1173.1 530.3 L1174.2 527.5 L1175.3 527.1 L1176.4 530.8 L1177.5 527.8 L1178.6 526.7 L1179.7 526.5 L1180.8 536.9 L1181.9 527.2 L1183.0 529.7 L1184.1 530.4 L1185.2 528.9 L1186.3 529.5 L1187.4 529.1 L1188.5 530.5 L1189.6 529.5 L1190.7 536.6 L1191.8 533.3 L1192.9 539.2 L1194.0 532.9 L1195.1 531.7 L1196.2 537.2 L1197.3 536.6 L1198.4 532.4 L1199.5 539.7 L1200.6 534.9 L1201.7 539.4 L1202.8 532.6 L1203.4 547.9 L1205.0 532.2 L1206.1 529.6 L1207.2 528.5 L1208.3 530.3 L1209.4 526.7 L1210.5 528.3 L1211.6 529.0 L1212.7 530.0 L1213.8 527.4 L1214.9 530.8 L1216.0 527.5 L1217.1 528.4 L1218.2 526.9 L1219.3 528.9 L1220.4 530.3 L1221.5 530.4 L1222.6 529.5 L1223.7 529.3 L1224.8 530.5 L1225.9 526.4 L1227.0 530.7 L1228.1 527.4 L1229.2 528.3 L1230.3 528.7 L1231.4 531.1 L1232.5 527.0 L1233.6 528.5 L1234.7 527.4 L1235.8 526.6 L1236.9 527.2 L1238.0 530.0 L1239.1 530.3 L1240.2 530.8 L1241.3 528.5 L1242.4 529.0 L1243.5 526.8 L1244.6 528.3 L1245.7 530.7 L1246.8 530.0 L1247.9 528.1 L1249.0 528.0 L1250.1 529.1 L1251.2 526.5 L1252.3 530.2 L1253.4 530.0 L1254.5 526.8 L1255.6 527.1 L1256.7 527.4 L1257.8 528.1 L1258.9 531.0 L1260.0 527.5 L1261.1 527.9 L1262.2 547.9 L1263.3 530.7 L1264.4 530.0 L1265.5 528.9 L1266.6 530.1 L1267.7 537.2 L1268.8 530.3 L1269.9 526.7 L1271.0 526.7 L1272.1 526.9 L1273.2 529.1 L1274.3 526.7 L1275.4 528.2 L1276.5 529.6 L1277.6 528.9 L1278.7 530.6 L1279.8 531.0 L1280.9 528.5 L1282.0 527.0 L1283.1 529.2 L1284.2 529.9 L1285.3 529.6 L1286.4 528.8 L1287.5 526.8 L1288.6 526.4 L1289.7 526.9 L1290.8 530.2 L1291.9 529.9 L1293.0 530.3 L1294.1 526.4 L1295.2 526.7 L1296.3 529.8 L1297.4 531.0 L1298.5 529.8 L1299.6 531.2 L1300.7 529.6 L1301.8 531.2 L1302.9 528.7 L1304.0 529.1 L1305.1 530.2 L1306.2 530.6 L1307.3 527.5 L1308.4 530.3 L1309.5 530.8 L1310.6 528.8 L1311.7 530.2 L1312.8 527.8 L1313.9 528.4 L1315.0 530.9 L1315.6 547.9 L1317.2 531.0 L1318.3 529.6 L1319.4 527.0 L1320.5 531.2 L1321.6 528.9 L1322.7 529.9 L1323.8 527.2 L1324.9 530.5 L1326.0 536.4 L1327.1 529.1 L1328.2 530.7 L1329.3 527.2 L1330.4 529.7 L1331.5 529.4 L1332.6 531.0 L1333.7 526.6 L1334.8 528.7 L1335.9 528.6 L1337.0 526.5 L1338.1 530.4 L1339.2 530.0 L1340.3 531.1 L1341.4 527.8 L1342.5 531.2 L1343.6 528.4 L1344.7 527.8 L1345.8 527.0 L1346.9 531.0 L1348.0 528.8 L1349.1 529.9 L1350.2 529.3 L1351.3 528.3 L1352.4 530.5 L1353.5 527.6 L1354.6 527.2 L1355.7 529.3 L1356.8 527.1 L1357.9 529.3 L1359.0 527.4 L1360.1 530.1 L1361.6 547.9 L1362.3 527.3 L1363.4 527.3 L1364.5 531.0 L1365.6 526.5 L1366.7 530.0 L1367.8 528.1 L1368.9 528.6 L1370.0 529.1 L1371.1 531.2 L1372.2 526.5 L1373.3 526.7 L1374.4 527.3 L1375.5 526.9 L1376.6 528.1 L1377.7 527.9 L1378.8 528.6 L1379.9 528.2 L1381.0 528.7 L1382.1 526.6 L1383.2 529.8 L1384.3 530.7 L1385.4 526.6 L1386.5 529.9 L1387.6 528.6 L1388.7 530.6 L1389.8 529.8 L1390.9 529.8 L1392.0 530.8 L1393.1 527.1 L1394.2 528.5 L1395.3 530.3 L1396.4 529.0 L1397.5 528.2 L1398.6 529.7 L1399.7 530.2 L1400.8 529.4 L1401.9 531.2 L1403.0 527.0 L1404.1 528.5 L1405.2 529.9 L1406.3 529.8 L1407.4 530.5 L1408.5 527.0 L1409.6 531.0 L1410.7 529.1 L1411.8 530.7 L1412.9 526.5 L1414.0 530.5 L1415.1 529.5 L1416.2 528.2 L1416.9 547.9 L1418.4 527.6 L1419.5 527.5 L1420.6 527.4 L1421.7 526.8 L1422.8 537.4 L1423.9 528.4 L1425.0 526.5 L1426.1 529.2 L1427.2 527.0 L1428.3 529.4 L1429.4 529.0 L1430.5 529.8 L1431.6 528.5 L1432.7 529.7 L1433.8 527.1 L1434.9 529.1 L1436.0 529.8 L1437.1 528.4 L1438.2 530.8 L1439.3 529.7 L1440.4 527.1 L1441.5 530.3 L1442.6 534.5 L1443.7 528.5 L1444.8 526.7 L1445.9 528.6 L1447.0 528.7 L1448.1 527.9 L1449.2 529.5 L1450.3 529.5 L1451.4 527.9 L1452.5 530.8 L1453.6 529.3 L1454.7 528.4 L1455.8 526.5 L1456.9 529.1 L1458.0 526.4 L1459.1 528.7 L1460.2 530.4 L1461.3 526.4 L1462.4 528.7 L1463.5 526.9 L1464.6 527.2 L1465.7 526.9 L1466.8 530.5 L1468.0 547.9 L1469.0 530.3 L1470.1 528.2 L1471.2 547.9 L1472.3 528.1 L1473.4 529.2 L1474.5 529.8 L1475.6 531.2 L1476.7 527.1 L1477.8 528.0 L1478.9 528.8 L1480.0 530.0 L1481.1 528.6 L1482.2 528.4 L1483.3 530.7 L1484.4 527.5 L1485.5 530.8 L1486.6 528.7 L1487.7 528.2 L1488.8 537.4 L1489.9 529.7 L1491.0 529.5 L1492.1 529.9 L1493.2 526.8 L1494.3 529.5 L1495.4 529.4 L1496.5 526.9 L1497.6 526.5 L1498.7 528.2 L1499.8 531.0 L1500.9 527.1 L1502.0 526.8 L1503.1 529.8 L1504.2 526.5 L1505.3 526.6 L1506.4 529.3 L1507.5 530.2 L1508.6 527.0 L1509.7 527.4 L1510.8 530.4 L1511.9 530.3 L1513.0 529.8 L1514.1 530.7 L1515.2 529.4 L1516.3 530.9 L1517.4 527.2 L1518.5 530.1 L1519.6 529.9 L1520.7 531.1 L1521.8 529.6 L1522.9 527.8 L1524.0 529.9 L1525.1 530.6 L1526.2 527.1 L1527.3 530.5 L1528.4 527.7 L1529.5 526.5 L1530.6 526.6 L1531.7 530.1 L1532.8 530.6 L1533.9 530.0 L1535.0 528.4 L1536.1 530.0 L1537.2 530.2 L1538.3 530.7 L1539.4 528.6 L1540.5 527.5 L1541.6 528.0 L1542.7 529.7 L1543.8 530.8 L1544.9 527.1 L1546.0 528.0 L1547.1 528.5 L1548.2 528.8 L1549.3 530.9 L1550.4 530.1 L1552.0 547.9 L1552.6 529.3 L1553.7 527.4 L1554.8 527.0 L1555.9 529.9 L1557.0 527.9 L1558.1 529.5 L1559.2 528.0 L1560.3 530.0 L1561.4 529.5 L1562.5 530.4 L1563.6 526.8 L1564.7 527.8 L1565.8 531.1 L1566.9 530.3 L1568.0 529.4 L1569.1 529.7 L1570.2 530.4 L1571.3 528.5 L1572.4 530.0 L1573.5 527.9 L1574.6 531.3 L1575.7 527.4 L1576.8 531.0" fill="none" stroke="#c23cbf" stroke-width="2"/>
<path d="M93.0 496.4h0M94.0 572.5h0M96.0 608.0h0M97.5 501.0h0M98.4 524.8h0M100.5 500.8h0M102.0 494.6h0M103.8 515.8h0M105.0 491.1h0M106.5 491.9h0M108.0 485.0h0M109.5 487.0h0M111.0 499.5h0M112.5 496.6h0M113.8 513.8h0M115.5 490.9h0M117.0 492.5h0M118.5 501.0h0M120.0 490.1h0M121.5 496.5h0M123.0 494.1h0M124.5 488.1h0M126.0 497.8h0M127.5 492.8h0M129.0 489.3h0M130.5 484.9h0M132.0 494.7h0M133.5 499.4h0M135.0 501.3h0M136.5 488.7h0M138.0 486.7h0M139.5 489.9h0M141.0 491.9h0M142.5 487.3h0M144.0 493.7h0M145.5 501.0h0M147.0 490.7h0M148.5 487.7h0M150.0 495.3h0M151.5 501.6h0M153.0 499.1h0M154.5 501.0h0M156.5 528.8h0M157.5 495.2h0M159.0 500.6h0M160.5 492.4h0M162.0 487.7h0M163.0 516.5h0M165.0 495.8h0M166.5 485.3h0M168.0 498.9h0M169.5 497.9h0M171.0 491.7h0M172.5 502.0h0M174.0 495.6h0M175.5 485.4h0M177.0 493.0h0M178.5 490.2h0M180.0 486.3h0M181.5 486.7h0M183.0 495.2h0M184.5 500.2h0M186.0 500.9h0M187.5 498.4h0M189.0 496.1h0M190.5 502.0h0M191.9 527.3h0M193.5 501.6h0M195.0 491.3h0M196.5 497.6h0M198.0 495.7h0M199.5 487.2h0M201.0 493.9h0M202.5 500.5h0M204.0 496.0h0M205.5 487.5h0M207.0 501.6h0M208.5 492.8h0M210.0 514.0h0M211.5 484.9h0M213.0 489.9h0M214.5 495.6h0M216.0 488.5h0M217.5 488.4h0M219.0 498.1h0M220.5 484.8h0M222.0 487.9h0M223.5 489.1h0M225.0 493.0h0M226.5 512.0h0M228.0 497.5h0M229.5 485.3h0M231.5 545.2h0M232.5 485.3h0M234.0 498.2h0M235.5 498.6h0M237.0 491.1h0M238.5 487.3h0M240.0 490.6h0M241.5 500.5h0M243.0 486.1h0M244.5 488.9h0M246.0 498.9h0M247.5 496.2h0M249.0 485.0h0M250.5 495.0h0M252.0 489.4h0M253.5 499.8h0M255.0 486.2h0M256.5 499.5h0M258.0 484.9h0M259.5 495.9h0M261.0 517.6h0M262.5 490.7h0M264.0 485.7h0M265.5 486.8h0M267.0 498.3h0M268.5 496.9h0M270.0 491.8h0M271.5 494.7h0M273.0 486.1h0M274.5 494.0h0M276.0 486.2h0M277.5 486.0h0M279.0 492.7h0M280.5 501.7h0M282.0 516.2h0M283.5 499.0h0M285.0 489.3h0M286.5 496.3h0M288.0 492.3h0M289.5 500.2h0M291.0 497.7h0M292.5 488.5h0M294.0 492.2h0M295.5 632.6h0M297.0 621.7h0M298.5 493.1h0M300.0 494.1h0M301.5 493.7h0M303.8 527.9h0M304.5 485.6h0M306.0 492.2h0M307.5 487.3h0M309.0 499.9h0M310.5 500.8h0M312.0 500.7h0M313.5 488.3h0M315.0 499.3h0M316.5 490.5h0M318.0 486.6h0M319.5 498.2h0M321.0 495.1h0M322.5 484.7h0M324.7 520.4h0M325.5 493.0h0M327.0 498.6h0M328.5 514.2h0M330.0 512.4h0M331.5 491.1h0M333.0 500.9h0M334.5 488.2h0M336.0 500.2h0M337.5 501.3h0M339.0 497.3h0M340.5 494.6h0M342.0 487.7h0M343.5 499.4h0M345.0 492.1h0M346.5 500.5h0M348.0 490.0h0M350.0 516.3h0M351.0 490.9h0M353.0 517.3h0M354.0 500.9h0M355.5 494.1h0M357.0 492.4h0M359.0 519.8h0M360.0 492.8h0M361.5 500.1h0M363.0 501.1h0M364.0 567.0h0M366.0 488.7h0M368.0 556.1h0M369.0 511.7h0M370.5 501.8h0M372.0 572.5h0M373.8 517.2h0M375.0 522.1h0M376.5 494.5h0M378.0 487.4h0M379.5 493.2h0M381.0 484.9h0M382.5 487.5h0M384.0 490.9h0M385.5 496.0h0M387.0 499.8h0M388.5 497.5h0M390.0 508.2h0M391.0 524.8h0M393.0 500.6h0M394.5 508.7h0M396.0 505.6h0M397.5 506.4h0M399.0 498.0h0M400.5 505.9h0M402.0 499.2h0M403.5 527.5h0M405.0 509.1h0M406.5 514.5h0M408.0 518.5h0M409.0 513.5h0M411.0 530.0h0M412.5 516.5h0M414.0 511.9h0M415.5 509.0h0M417.0 504.5h0M418.5 513.6h0M420.0 516.0h0M421.5 506.8h0M423.0 502.8h0M424.5 505.8h0M426.0 501.9h0M427.5 506.3h0M429.0 500.2h0M430.5 499.8h0M432.0 498.0h0M433.5 500.8h0M435.0 511.8h0M436.5 505.4h0M438.0 496.5h0M439.5 499.5h0M441.0 498.3h0M442.5 510.2h0M444.0 497.1h0M445.5 500.9h0M447.2 523.9h0M448.5 505.8h0M450.0 505.6h0M451.5 506.6h0M453.0 493.2h0M454.5 503.5h0M456.0 498.3h0M457.5 499.4h0M459.0 508.9h0M460.5 505.8h0M462.0 504.9h0M463.5 510.0h0M465.0 505.5h0M466.5 498.1h0M468.0 505.1h0M469.5 502.1h0M471.0 508.2h0M472.5 506.7h0M474.0 521.6h0M475.5 495.9h0M477.0 502.4h0M478.5 506.6h0M480.0 506.5h0M481.5 507.7h0M483.0 493.6h0M484.5 495.9h0M486.0 494.7h0M487.5 506.2h0M489.0 528.9h0M490.1 531.1h0M491.2 531.2h0M492.3 528.8h0M493.4 529.0h0M494.5 529.8h0M495.6 530.6h0M496.7 529.6h0M497.8 529.7h0M498.9 527.1h0M500.0 531.3h0M501.1 527.6h0M502.2 527.1h0M503.3 530.7h0M504.4 526.7h0M505.5 527.8h0M506.6 526.8h0M507.7 529.8h0M508.8 529.4h0M509.9 529.3h0M511.0 526.3h0M512.1 528.4h0M513.2 529.5h0M514.3 529.2h0M515.4 529.9h0M516.5 531.0h0M517.6 530.8h0M518.7 527.2h0M519.8 529.9h0M520.9 526.7h0M522.0 530.0h0M523.1 530.0h0M524.2 528.7h0M525.3 530.3h0M526.4 529.4h0M527.5 526.6h0M528.6 526.9h0M529.7 527.3h0M530.8 528.2h0M531.9 526.8h0M533.0 526.6h0M534.1 528.6h0M535.2 527.7h0M536.3 531.0h0M537.4 527.7h0M538.5 529.0h0M539.6 527.6h0M540.7 528.1h0M541.8 529.9h0M542.9 531.0h0M544.0 526.7h0M545.1 530.6h0M546.2 528.9h0M547.3 529.6h0M548.4 529.8h0M549.5 527.6h0M550.6 526.5h0M551.7 530.0h0M552.8 528.0h0M553.9 529.8h0M555.0 528.5h0M556.1 529.3h0M557.2 530.4h0M558.3 530.5h0M559.4 530.2h0M560.5 526.8h0M561.6 528.8h0M562.7 530.2h0M563.8 526.8h0M564.9 526.4h0M566.0 529.0h0M567.1 530.6h0M568.2 530.3h0M569.3 530.8h0M570.4 529.6h0M571.5 530.8h0M572.6 530.1h0M573.7 530.0h0M574.8 528.5h0M575.9 526.9h0M577.0 527.6h0M578.1 529.2h0M579.2 529.2h0M580.3 528.7h0M581.4 529.4h0M582.5 529.6h0M583.6 531.0h0M584.7 529.9h0M585.8 526.5h0M586.9 530.6h0M588.0 528.8h0M589.1 528.2h0M590.2 527.0h0M591.3 530.2h0M592.4 529.9h0M593.5 530.0h0M594.6 529.3h0M595.7 529.1h0M596.8 526.6h0M597.9 527.1h0M599.0 527.0h0M600.1 531.2h0M601.2 531.1h0M602.3 527.8h0M603.4 526.9h0M604.5 528.9h0M605.6 528.4h0M606.7 531.3h0M607.8 529.3h0M609.0 542.5h0M610.0 527.2h0M611.0 547.9h0M612.2 526.5h0M613.3 530.0h0M614.4 502.4h0M616.4 495.7h0M618.4 488.8h0M620.4 493.6h0M622.4 496.7h0M624.4 503.6h0M626.4 500.4h0M628.4 493.6h0M630.4 502.1h0M633.3 519.6h0M634.0 515.4h0M636.4 495.6h0M638.4 497.9h0M640.4 513.0h0M642.4 496.7h0M644.4 493.6h0M646.4 496.4h0M648.4 500.2h0M650.4 492.7h0M652.4 503.9h0M654.4 493.2h0M656.4 500.0h0M658.4 489.0h0M660.4 503.7h0M662.4 497.3h0M664.4 501.0h0M666.4 492.1h0M668.4 500.8h0M670.4 499.1h0M672.4 500.4h0M674.4 491.7h0M676.4 489.9h0M678.4 504.4h0M680.4 502.5h0M682.4 495.7h0M685.0 517.9h0M686.4 499.1h0M688.4 516.2h0M690.4 512.5h0M692.4 526.9h0M693.5 526.4h0M694.6 529.6h0M695.7 526.7h0M696.8 531.1h0M697.9 529.4h0M699.0 529.6h0M700.1 531.2h0M701.2 529.5h0M702.3 530.7h0M703.4 530.2h0M704.5 527.2h0M705.6 529.1h0M706.7 528.9h0M707.8 526.7h0M708.9 529.5h0M710.0 531.1h0M711.1 527.3h0M712.2 531.1h0M713.3 531.0h0M714.4 530.0h0M715.5 526.8h0M716.6 529.9h0M717.7 528.2h0M718.8 527.7h0M719.9 537.4h0M721.0 526.8h0M722.1 526.6h0M723.2 530.1h0M724.3 526.6h0M725.4 529.4h0M726.5 529.1h0M727.6 526.7h0M728.7 527.3h0M729.7 547.9h0M730.9 528.3h0M732.0 529.7h0M733.1 527.4h0M734.2 530.3h0M735.3 530.0h0M736.4 531.1h0M737.5 529.7h0M738.6 526.9h0M739.7 530.0h0M740.8 530.8h0M741.9 527.8h0M743.0 530.1h0M744.1 528.2h0M745.2 527.6h0M746.3 528.0h0M747.4 527.1h0M748.5 528.5h0M749.6 527.6h0M750.7 530.0h0M751.8 530.5h0M752.9 528.4h0M754.0 529.3h0M755.1 528.8h0M756.2 527.3h0M757.3 526.4h0M758.4 528.9h0M759.5 527.1h0M760.6 531.1h0M761.7 530.7h0M762.8 526.5h0M763.9 526.7h0M765.0 527.0h0M766.1 530.0h0M767.2 526.6h0M768.3 528.3h0M769.7 547.9h0M770.5 530.6h0M771.6 530.0h0M772.7 528.1h0M773.8 531.2h0M775.0 541.6h0M776.0 529.7h0M777.1 527.3h0M778.2 530.9h0M779.3 529.3h0M780.4 528.1h0M781.5 530.5h0M782.6 529.2h0M783.7 529.7h0M784.8 529.7h0M785.9 529.5h0M787.0 527.0h0M788.1 529.5h0M789.2 527.7h0M790.0 547.8h0M791.4 529.2h0M792.5 529.3h0M793.6 529.0h0M794.7 531.2h0M795.8 528.1h0M796.9 530.8h0M798.0 544.0h0M799.1 530.5h0M800.2 528.7h0M801.0 545.1h0M802.4 527.3h0M803.5 530.3h0M804.6 526.6h0M806.0 544.1h0M806.8 526.7h0M807.9 526.8h0M809.0 527.2h0M810.0 538.3h0M811.2 529.3h0M812.3 527.2h0M813.0 546.4h0M814.5 528.7h0M815.6 530.7h0M816.5 541.5h0M817.8 531.1h0M818.9 527.5h0M820.0 527.1h0M821.0 545.6h0M822.2 528.2h0M823.3 529.2h0M824.4 529.2h0M825.5 529.1h0M826.6 531.1h0M827.7 528.9h0M828.8 527.5h0M829.9 529.0h0M831.0 528.9h0M832.1 530.6h0M833.2 530.8h0M834.3 528.8h0M835.6 547.9h0M836.5 527.7h0M837.6 528.7h0M838.7 528.8h0M839.8 526.6h0M840.9 527.0h0M842.0 527.7h0M843.1 530.3h0M844.2 528.8h0M845.3 526.8h0M846.4 527.4h0M847.5 530.9h0M848.6 527.5h0M849.7 526.9h0M850.8 527.2h0M851.9 528.8h0M853.0 530.2h0M854.1 528.8h0M855.2 531.1h0M856.3 530.5h0M857.4 527.9h0M858.5 530.4h0M859.6 530.7h0M860.7 528.1h0M861.8 527.0h0M862.9 528.4h0M864.0 530.7h0M865.1 528.2h0M866.2 527.3h0M867.3 526.4h0M868.4 529.5h0M869.5 529.1h0M870.6 527.6h0M871.7 527.2h0M872.8 547.9h0M873.9 528.4h0M875.0 534.4h0M876.1 530.5h0M877.2 529.1h0M878.3 526.9h0M879.4 530.1h0M881.0 547.9h0M881.6 530.7h0M882.7 530.2h0M883.8 547.9h0M885.0 547.9h0M886.0 530.6h0M887.1 530.1h0M888.2 530.8h0M889.3 527.0h0M890.0 547.9h0M891.5 531.2h0M892.6 528.5h0M893.7 528.1h0M894.8 526.7h0M895.9 530.0h0M897.0 531.0h0M898.1 529.3h0M899.2 531.0h0M900.3 531.2h0M901.4 526.6h0M902.5 530.3h0M903.6 528.8h0M904.7 527.3h0M905.8 529.7h0M906.9 531.0h0M908.0 547.9h0M909.1 531.2h0M910.2 527.6h0M911.3 527.6h0M912.4 530.1h0M913.5 530.1h0M914.6 529.6h0M915.7 527.8h0M916.8 527.8h0M917.9 528.5h0M919.0 527.4h0M920.1 530.0h0M921.2 526.5h0M922.3 535.3h0M923.4 530.1h0M924.5 526.6h0M925.6 529.7h0M926.7 529.6h0M927.8 526.8h0M928.9 527.9h0M930.0 526.4h0M931.1 527.1h0M932.2 527.0h0M933.3 527.7h0M934.4 529.7h0M935.5 528.2h0M936.6 526.8h0M937.7 531.1h0M938.8 526.7h0M939.9 530.6h0M941.0 531.1h0M942.1 528.1h0M943.2 527.6h0M944.3 528.4h0M945.0 547.9h0M946.5 526.9h0M947.6 527.0h0M948.7 526.6h0M949.8 530.2h0M951.0 547.9h0M952.0 527.3h0M953.1 527.2h0M954.2 529.8h0M955.3 530.8h0M956.4 530.3h0M957.5 529.2h0M958.6 530.0h0M959.7 527.7h0M960.8 529.7h0M961.9 528.8h0M963.0 528.2h0M964.1 529.2h0M965.2 527.5h0M966.3 527.8h0M967.4 530.2h0M968.5 530.8h0M969.6 535.1h0M970.7 527.5h0M971.8 531.2h0M972.9 528.8h0M974.0 530.4h0M975.1 529.6h0M976.2 530.0h0M977.3 529.9h0M978.4 527.8h0M979.5 530.7h0M980.6 530.9h0M981.7 527.8h0M982.8 528.2h0M983.9 529.3h0M985.0 526.9h0M986.1 526.9h0M987.2 530.2h0M988.3 526.8h0M989.4 529.4h0M990.5 530.1h0M991.6 528.6h0M992.7 527.6h0M993.8 529.5h0M994.9 530.5h0M996.0 528.0h0M997.1 530.4h0M998.2 527.5h0M999.3 530.6h0M1000.4 526.9h0M1001.5 530.3h0M1002.6 527.8h0M1003.7 530.5h0M1004.8 530.0h0M1005.9 528.7h0M1007.0 529.6h0M1008.1 526.5h0M1009.2 530.8h0M1010.3 530.8h0M1011.4 526.4h0M1012.5 527.7h0M1013.6 530.3h0M1014.7 530.7h0M1015.8 529.3h0M1016.9 529.3h0M1018.0 527.8h0M1019.1 528.1h0M1020.6 547.9h0M1021.3 529.3h0M1022.4 526.8h0M1023.5 528.4h0M1024.6 529.2h0M1025.7 527.7h0M1026.8 527.5h0M1027.9 527.1h0M1029.0 528.1h0M1030.1 529.7h0M1031.2 530.8h0M1032.3 527.4h0M1033.8 547.9h0M1034.5 529.2h0M1035.6 528.2h0M1036.7 527.9h0M1037.8 530.4h0M1038.9 527.4h0M1040.0 528.8h0M1041.0 547.9h0M1042.2 530.5h0M1043.3 526.6h0M1044.4 530.8h0M1045.5 528.6h0M1046.6 528.7h0M1047.7 527.2h0M1048.8 529.2h0M1049.9 530.2h0M1051.0 529.3h0M1052.1 530.7h0M1053.2 529.5h0M1054.3 529.9h0M1055.4 531.2h0M1056.5 529.2h0M1057.6 529.5h0M1058.7 530.2h0M1059.8 526.6h0M1060.9 530.2h0M1062.0 529.3h0M1063.1 530.6h0M1064.2 527.3h0M1065.3 547.9h0M1066.4 530.1h0M1067.5 529.5h0M1068.6 527.2h0M1069.7 529.0h0M1070.8 528.6h0M1071.9 527.2h0M1073.0 527.1h0M1074.1 529.4h0M1075.2 529.2h0M1076.3 531.2h0M1077.4 529.9h0M1078.5 529.8h0M1079.6 529.2h0M1080.7 528.0h0M1081.8 526.7h0M1082.9 531.0h0M1084.0 526.8h0M1085.1 530.6h0M1086.2 534.3h0M1087.3 526.6h0M1088.4 530.0h0M1089.5 530.6h0M1090.6 527.4h0M1091.7 530.5h0M1092.8 527.4h0M1093.9 526.9h0M1095.0 527.4h0M1096.1 526.9h0M1097.2 527.1h0M1098.3 527.9h0M1099.4 527.6h0M1100.5 526.9h0M1101.6 530.0h0M1102.5 547.9h0M1103.8 531.0h0M1104.9 530.5h0M1106.0 528.8h0M1107.1 537.7h0M1108.2 529.0h0M1109.3 528.0h0M1110.4 529.4h0M1111.0 547.9h0M1112.6 528.1h0M1113.7 531.1h0M1114.8 527.9h0M1116.0 547.9h0M1117.0 528.7h0M1118.1 526.8h0M1119.2 527.7h0M1120.3 529.6h0M1121.4 529.5h0M1122.5 528.7h0M1123.6 530.2h0M1124.7 529.2h0M1125.8 527.2h0M1126.9 527.2h0M1128.0 528.8h0M1129.1 528.8h0M1130.2 528.0h0M1131.3 529.6h0M1132.4 529.8h0M1133.5 528.1h0M1134.6 531.1h0M1135.7 526.9h0M1136.8 531.0h0M1137.9 531.2h0M1139.0 526.7h0M1140.1 528.0h0M1141.2 526.8h0M1142.3 528.2h0M1143.4 527.8h0M1144.5 527.9h0M1145.6 528.0h0M1146.7 527.5h0M1147.8 530.4h0M1148.9 527.5h0M1150.0 528.0h0M1151.1 527.2h0M1152.2 528.5h0M1153.3 529.8h0M1154.4 529.7h0M1155.5 528.1h0M1156.6 531.0h0M1158.0 547.9h0M1158.8 527.3h0M1159.9 526.7h0M1161.0 531.2h0M1162.1 528.3h0M1163.2 526.4h0M1164.3 529.2h0M1165.4 528.1h0M1166.5 534.3h0M1167.6 527.9h0M1168.7 526.5h0M1169.8 527.0h0M1170.9 531.2h0M1172.0 530.1h0M1173.1 530.3h0M1174.2 527.5h0M1175.3 527.1h0M1176.4 530.8h0M1177.5 527.8h0M1178.6 526.7h0M1179.7 526.5h0M1180.8 536.9h0M1181.9 527.2h0M1183.0 529.7h0M1184.1 530.4h0M1185.2 528.9h0M1186.3 529.5h0M1187.4 529.1h0M1188.5 530.5h0M1189.6 529.5h0M1190.7 536.6h0M1191.8 533.3h0M1192.9 539.2h0M1194.0 532.9h0M1195.1 531.7h0M1196.2 537.2h0M1197.3 536.6h0M1198.4 532.4h0M1199.5 539.7h0M1200.6 534.9h0M1201.7 539.4h0M1202.8 532.6h0M1203.4 547.9h0M1205.0 532.2h0M1206.1 529.6h0M1207.2 528.5h0M1208.3 530.3h0M1209.4 526.7h0M1210.5 528.3h0M1211.6 529.0h0M1212.7 530.0h0M1213.8 527.4h0M1214.9 530.8h0M1216.0 527.5h0M1217.1 528.4h0M1218.2 526.9h0M1219.3 528.9h0M1220.4 530.3h0M1221.5 530.4h0M1222.6 529.5h0M1223.7 529.3h0M1224.8 530.5h0M1225.9 526.4h0M1227.0 530.7h0M1228.1 527.4h0M1229.2 528.3h0M1230.3 528.7h0M1231.4 531.1h0M1232.5 527.0h0M1233.6 528.5h0M1234.7 527.4h0M1235.8 526.6h0M1236.9 527.2h0M1238.0 530.0h0M1239.1 530.3h0M1240.2 530.8h0M1241.3 528.5h0M1242.4 529.0h0M1243.5 526.8h0M1244.6 528.3h0M1245.7 530.7h0M1246.8 530.0h0M1247.9 528.1h0M1249.0 528.0h0M1250.1 529.1h0M1251.2 526.5h0M1252.3 530.2h0M1253.4 530.0h0M1254.5 526.8h0M1255.6 527.1h0M1256.7 527.4h0M1257.8 528.1h0M1258.9 531.0h0M1260.0 527.5h0M1261.1 527.9h0M1262.2 547.9h0M1263.3 530.7h0M1264.4 530.0h0M1265.5 528.9h0M1266.6 530.1h0M1267.7 537.2h0M1268.8 530.3h0M1269.9 526.7h0M1271.0 526.7h0M1272.1 526.9h0M1273.2 529.1h0M1274.3 526.7h0M1275.4 528.2h0M1276.5 529.6h0M1277.6 528.9h0M1278.7 530.6h0M1279.8 531.0h0M1280.9 528.5h0M1282.0 527.0h0M1283.1 529.2h0M1284.2 529.9h0M1285.3 529.6h0M1286.4 528.8h0M1287.5 526.8h0M1288.6 526.4h0M1289.7 526.9h0M1290.8 530.2h0M1291.9 529.9h0M1293.0 530.3h0M1294.1 526.4h0M1295.2 526.7h0M1296.3 529.8h0M1297.4 531.0h0M1298.5 529.8h0M1299.6 531.2h0M1300.7 529.6h0M1301.8 531.2h0M1302.9 528.7h0M1304.0 529.1h0M1305.1 530.2h0M1306.2 530.6h0M1307.3 527.5h0M1308.4 530.3h0M1309.5 530.8h0M1310.6 528.8h0M1311.7 530.2h0M1312.8 527.8h0M1313.9 528.4h0M1315.0 530.9h0M1315.6 547.9h0M1317.2 531.0h0M1318.3 529.6h0M1319.4 527.0h0M1320.5 531.2h0M1321.6 528.9h0M1322.7 529.9h0M1323.8 527.2h0M1324.9 530.5h0M1326.0 536.4h0M1327.1 529.1h0M1328.2 530.7h0M1329.3 527.2h0M1330.4 529.7h0M1331.5 529.4h0M1332.6 531.0h0M1333.7 526.6h0M1334.8 528.7h0M1335.9 528.6h0M1337.0 526.5h0M1338.1 530.4h0M1339.2 530.0h0M1340.3 531.1h0M1341.4 527.8h0M1342.5 531.2h0M1343.6 528.4h0M1344.7 527.8h0M1345.8 527.0h0M1346.9 531.0h0M1348.0 528.8h0M1349.1 529.9h0M1350.2 529.3h0M1351.3 528.3h0M1352.4 530.5h0M1353.5 527.6h0M1354.6 527.2h0M1355.7 529.3h0M1356.8 527.1h0M1357.9 529.3h0M1359.0 527.4h0M1360.1 530.1h0M1361.6 547.9h0M1362.3 527.3h0M1363.4 527.3h0M1364.5 531.0h0M1365.6 526.5h0M1366.7 530.0h0M1367.8 528.1h0M1368.9 528.6h0M1370.0 529.1h0M1371.1 531.2h0M1372.2 526.5h0M1373.3 526.7h0M1374.4 527.3h0M1375.5 526.9h0M1376.6 528.1h0M1377.7 527.9h0M1378.8 528.6h0M1379.9 528.2h0M1381.0 528.7h0M1382.1 526.6h0M1383.2 529.8h0M1384.3 530.7h0M1385.4 526.6h0M1386.5 529.9h0M1387.6 528.6h0M1388.7 530.6h0M1389.8 529.8h0M1390.9 529.8h0M1392.0 530.8h0M1393.1 527.1h0M1394.2 528.5h0M1395.3 530.3h0M1396.4 529.0h0M1397.5 528.2h0M1398.6 529.7h0M1399.7 530.2h0M1400.8 529.4h0M1401.9 531.2h0M1403.0 527.0h0M1404.1 528.5h0M1405.2 529.9h0M1406.3 529.8h0M1407.4 530.5h0M1408.5 527.0h0M1409.6 531.0h0M1410.7 529.1h0M1411.8 530.7h0M1412.9 526.5h0M1414.0 530.5h0M1415.1 529.5h0M1416.2 528.2h0M1416.9 547.9h0M1418.4 527.6h0M1419.5 527.5h0M1420.6 527.4h0M1421.7 526.8h0M1422.8 537.4h0M1423.9 528.4h0M1425.0 526.5h0M1426.1 529.2h0M1427.2 527.0h0M1428.3 529.4h0M1429.4 529.0h0M1430.5 529.8h0M1431.6 528.5h0M1432.7 529.7h0M1433.8 527.1h0M1434.9 529.1h0M1436.0 529.8h0M1437.1 528.4h0M1438.2 530.8h0M1439.3 529.7h0M1440.4 527.1h0M1441.5 530.3h0M1442.6 534.5h0M1443.7 528.5h0M1444.8 526.7h0M1445.9 528.6h0M1447.0 528.7h0M1448.1 527.9h0M1449.2 529.5h0M1450.3 529.5h0M1451.4 527.9h0M1452.5 530.8h0M1453.6 529.3h0M1454.7 528.4h0M1455.8 526.5h0M1456.9 529.1h0M1458.0 526.4h0M1459.1 528.7h0M1460.2 530.4h0M1461.3 526.4h0M1462.4 528.7h0M1463.5 526.9h0M1464.6 527.2h0M1465.7 526.9h0M1466.8 530.5h0M1468.0 547.9h0M1469.0 530.3h0M1470.1 528.2h0M1471.2 547.9h0M1472.3 528.1h0M1473.4 529.2h0M1474.5 529.8h0M1475.6 531.2h0M1476.7 527.1h0M1477.8 528.0h0M1478.9 528.8h0M1480.0 530.0h0M1481.1 528.6h0M1482.2 528.4h0M1483.3 530.7h0M1484.4 527.5h0M1485.5 530.8h0M1486.6 528.7h0M1487.7 528.2h0M1488.8 537.4h0M1489.9 529.7h0M1491.0 529.5h0M1492.1 529.9h0M1493.2 526.8h0M1494.3 529.5h0M1495.4 529.4h0M1496.5 526.9h0M1497.6 526.5h0M1498.7 528.2h0M1499.8 531.0h0M1500.9 527.1h0M1502.0 526.8h0M1503.1 529.8h0M1504.2 526.5h0M1505.3 526.6h0M1506.4 529.3h0M1507.5 530.2h0M1508.6 527.0h0M1509.7 527.4h0M1510.8 530.4h0M1511.9 530.3h0M1513.0 529.8h0M1514.1 530.7h0M1515.2 529.4h0M1516.3 530.9h0M1517.4 527.2h0M1518.5 530.1h0M1519.6 529.9h0M1520.7 531.1h0M1521.8 529.6h0M1522.9 527.8h0M1524.0 529.9h0M1525.1 530.6h0M1526.2 527.1h0M1527.3 530.5h0M1528.4 527.7h0M1529.5 526.5h0M1530.6 526.6h0M1531.7 530.1h0M1532.8 530.6h0M1533.9 530.0h0M1535.0 528.4h0M1536.1 530.0h0M1537.2 530.2h0M1538.3 530.7h0M1539.4 528.6h0M1540.5 527.5h0M1541.6 528.0h0M1542.7 529.7h0M1543.8 530.8h0M1544.9 527.1h0M1546.0 528.0h0M1547.1 528.5h0M1548.2 528.8h0M1549.3 530.9h0M1550.4 530.1h0M1552.0 547.9h0M1552.6 529.3h0M1553.7 527.4h0M1554.8 527.0h0M1555.9 529.9h0M1557.0 527.9h0M1558.1 529.5h0M1559.2 528.0h0M1560.3 530.0h0M1561.4 529.5h0M1562.5 530.4h0M1563.6 526.8h0M1564.7 527.8h0M1565.8 531.1h0M1566.9 530.3h0M1568.0 529.4h0M1569.1 529.7h0M1570.2 530.4h0M1571.3 528.5h0M1572.4 530.0h0M1573.5 527.9h0M1574.6 531.3h0M1575.7 527.4h0M1576.8 531.0h0" fill="none" stroke="#c23cbf" stroke-width="6.2" stroke-linecap="round"/>
<path d="M93.5 649.0 L94.4 455.0 L95.3 649.0 M95.1 649.0 L96.0 567.0 L96.9 649.0 M100.3 649.0 L101.2 375.8 L102.2 649.0 M102.8 649.0 L103.8 635.3 L104.7 649.0 M112.1 649.0 L113.0 490.6 L113.9 649.0 M128.8 649.0 L129.7 613.5 L130.6 649.0 M155.3 649.0 L156.2 580.7 L157.2 649.0 M162.1 649.0 L163.0 506.9 L163.9 649.0 M166.0 649.0 L166.9 602.6 L167.8 649.0 M191.0 649.0 L191.9 621.7 L192.8 649.0 M214.4 649.0 L215.3 616.2 L216.2 649.0 M230.1 649.0 L231.0 575.2 L231.9 649.0 M245.1 649.0 L246.0 588.9 L246.9 649.0 M253.5 649.0 L254.4 613.5 L255.3 649.0 M285.7 649.0 L286.6 569.8 L287.5 649.0 M292.9 649.0 L293.8 482.4 L294.6 649.0 M301.1 649.0 L302.0 476.9 L302.9 649.0 M319.1 649.0 L320.0 520.6 L320.9 649.0 M323.8 649.0 L324.7 608.0 L325.6 649.0 M346.1 649.0 L347.0 572.5 L347.9 649.0 M352.1 649.0 L353.0 545.2 L353.9 649.0 M358.1 649.0 L359.0 594.4 L359.9 649.0 M361.1 649.0 L362.0 526.1 L362.9 649.0 M365.1 649.0 L366.0 588.9 L366.9 649.0 M368.1 649.0 L369.0 608.0 L369.9 649.0 M371.1 649.0 L372.0 567.0 L372.9 649.0 M378.5 649.0 L379.4 602.6 L380.3 649.0 M390.1 649.0 L391.0 580.7 L391.9 649.0 M392.5 649.0 L393.4 588.9 L394.3 649.0 M408.1 649.0 L409.0 567.0 L409.9 649.0 M446.3 649.0 L447.2 572.5 L448.1 649.0 M487.9 649.0 L488.8 567.0 L489.6 649.0 M539.4 649.0 L540.3 597.1 L541.2 649.0 M553.1 649.0 L554.0 414.1 L554.9 649.0 M554.1 649.0 L555.0 621.7 L555.9 649.0 M557.4 649.0 L558.3 594.4 L559.2 649.0 M563.1 649.0 L564.0 375.8 L564.9 649.0 M565.8 649.0 L566.7 608.0 L567.6 649.0 M575.8 649.0 L576.7 616.2 L577.6 649.0 M576.1 649.0 L577.0 416.8 L577.9 649.0 M594.1 649.0 L595.0 553.4 L595.9 649.0 M600.8 649.0 L601.7 594.4 L602.6 649.0 M607.4 649.0 L608.3 567.0 L609.2 649.0 M625.8 649.0 L626.7 564.3 L627.6 649.0 M632.4 649.0 L633.3 586.2 L634.2 649.0 M640.8 649.0 L641.7 580.7 L642.6 649.0 M649.1 649.0 L650.0 602.6 L650.9 649.0 M684.1 649.0 L685.0 602.6 L685.9 649.0 M728.8 649.0 L729.7 602.6 L730.6 649.0 M768.8 649.0 L769.7 537.0 L770.6 649.0 M774.1 649.0 L775.0 616.2 L775.9 649.0 M778.1 649.0 L779.0 608.0 L779.9 649.0 M784.1 649.0 L785.0 537.0 L785.9 649.0 M789.7 649.0 L790.6 375.8 L791.5 649.0 M797.1 649.0 L798.0 567.0 L798.9 649.0 M800.1 649.0 L801.0 539.7 L801.9 649.0 M805.1 649.0 L806.0 572.5 L806.9 649.0 M809.1 649.0 L810.0 545.2 L810.9 649.0 M812.1 649.0 L813.0 539.7 L813.9 649.0 M815.6 649.0 L816.5 594.4 L817.4 649.0 M820.1 649.0 L821.0 616.2 L821.9 649.0 M834.7 649.0 L835.6 599.8 L836.5 649.0 M871.9 649.0 L872.8 594.4 L873.7 649.0 M880.1 649.0 L881.0 561.6 L881.9 649.0 M884.1 649.0 L885.0 567.0 L885.9 649.0 M889.1 649.0 L890.0 588.9 L890.9 649.0 M907.1 649.0 L908.0 599.8 L908.9 649.0 M944.1 649.0 L945.0 602.6 L945.9 649.0 M950.1 649.0 L951.0 595.7 L951.9 649.0 M1019.7 649.0 L1020.6 599.8 L1021.5 649.0 M1032.8 649.0 L1033.8 556.1 L1034.7 649.0 M1040.1 649.0 L1041.0 569.8 L1041.9 649.0 M1064.4 649.0 L1065.3 595.7 L1066.2 649.0 M1101.6 649.0 L1102.5 547.9 L1103.4 649.0 M1110.1 649.0 L1111.0 594.4 L1111.9 649.0 M1115.1 649.0 L1116.0 569.8 L1116.9 649.0 M1157.1 649.0 L1158.0 608.0 L1158.9 649.0 M1202.5 649.0 L1203.4 599.8 L1204.3 649.0 M1261.3 649.0 L1262.2 599.8 L1263.1 649.0 M1314.7 649.0 L1315.6 599.8 L1316.5 649.0 M1360.7 649.0 L1361.6 599.8 L1362.5 649.0 M1416.0 649.0 L1416.9 599.8 L1417.8 649.0 M1467.1 649.0 L1468.0 517.9 L1468.9 649.0 M1470.3 649.0 L1471.2 517.9 L1472.2 649.0 M1551.1 649.0 L1552.0 594.4 L1552.9 649.0 " fill="none" stroke="#4f8fe4" stroke-width="1.8" stroke-linejoin="round"/>
<path d="M96.0 547.5h0M98.4 447.5h0M103.8 547.5h0M113.8 547.5h0M129.7 547.5h0M156.2 547.5h0M163.0 547.5h0M166.9 547.5h0M231.0 547.5h0M246.0 547.5h0M254.4 547.5h0M286.6 547.5h0M295.0 547.5h0M303.8 547.5h0M320.0 547.5h0M324.7 547.5h0M347.0 547.5h0M350.0 547.5h0M353.0 547.5h0M356.0 547.5h0M359.0 547.5h0M362.0 547.5h0M366.0 547.5h0M369.0 547.5h0M372.0 547.5h0M375.0 547.5h0M364.4 447.5h0M373.8 447.5h0M379.4 547.5h0M391.0 547.5h0M393.4 547.5h0M409.0 547.5h0M447.2 547.5h0M488.8 547.5h0M540.3 547.5h0M555.0 547.5h0M558.3 547.5h0M566.7 547.5h0M576.7 547.5h0M595.0 547.5h0M596.0 447.5h0M601.7 547.5h0M608.3 547.5h0M608.5 447.5h0M626.7 547.5h0M633.3 547.5h0M634.0 447.5h0M641.7 547.5h0M650.0 547.5h0M685.0 547.5h0M729.7 547.5h0M769.7 547.5h0M775.0 547.5h0M779.0 547.5h0M785.0 547.5h0M798.0 547.5h0M801.0 547.5h0M806.0 547.5h0M810.0 547.5h0M813.0 547.5h0M816.5 547.5h0M821.0 547.5h0M790.0 447.5h0M797.2 447.5h0M835.6 547.5h0M872.8 547.5h0M881.0 547.5h0M883.8 447.5h0M885.0 547.5h0M908.0 547.5h0M945.0 547.5h0M951.0 547.5h0M1020.6 547.5h0M1033.8 547.5h0M1041.0 447.5h0M1065.3 547.5h0M1102.5 547.5h0M1111.0 547.5h0M1116.0 447.5h0M1158.0 547.5h0M1203.4 547.5h0M1262.2 547.5h0M1315.6 547.5h0M1361.6 547.5h0M1416.9 547.5h0M1468.0 547.5h0M1471.2 447.5h0M1552.0 547.5h0" stroke="rgba(235,90,90,0.35)" stroke-width="15" stroke-linecap="round"/>
<path d="M96.0 547.5h0M98.4 447.5h0M103.8 547.5h0M113.8 547.5h0M129.7 547.5h0M156.2 547.5h0M163.0 547.5h0M166.9 547.5h0M231.0 547.5h0M246.0 547.5h0M254.4 547.5h0M286.6 547.5h0M295.0 547.5h0M303.8 547.5h0M320.0 547.5h0M324.7 547.5h0M347.0 547.5h0M350.0 547.5h0M353.0 547.5h0M356.0 547.5h0M359.0 547.5h0M362.0 547.5h0M366.0 547.5h0M369.0 547.5h0M372.0 547.5h0M375.0 547.5h0M364.4 447.5h0M373.8 447.5h0M379.4 547.5h0M391.0 547.5h0M393.4 547.5h0M409.0 547.5h0M447.2 547.5h0M488.8 547.5h0M540.3 547.5h0M555.0 547.5h0M558.3 547.5h0M566.7 547.5h0M576.7 547.5h0M595.0 547.5h0M596.0 447.5h0M601.7 547.5h0M608.3 547.5h0M608.5 447.5h0M626.7 547.5h0M633.3 547.5h0M634.0 447.5h0M641.7 547.5h0M650.0 547.5h0M685.0 547.5h0M729.7 547.5h0M769.7 547.5h0M775.0 547.5h0M779.0 547.5h0M785.0 547.5h0M798.0 547.5h0M801.0 547.5h0M806.0 547.5h0M810.0 547.5h0M813.0 547.5h0M816.5 547.5h0M821.0 547.5h0M790.0 447.5h0M797.2 447.5h0M835.6 547.5h0M872.8 547.5h0M881.0 547.5h0M883.8 447.5h0M885.0 547.5h0M908.0 547.5h0M945.0 547.5h0M951.0 547.5h0M1020.6 547.5h0M1033.8 547.5h0M1041.0 447.5h0M1065.3 547.5h0M1102.5 547.5h0M1111.0 547.5h0M1116.0 447.5h0M1158.0 547.5h0M1203.4 547.5h0M1262.2 547.5h0M1315.6 547.5h0M1361.6 547.5h0M1416.9 547.5h0M1468.0 547.5h0M1471.2 447.5h0M1552.0 547.5h0" stroke="#e33535" stroke-width="7" stroke-linecap="round"/>
<path d="M191.9 547.5h0M215.3 547.5h0M890.0 447.5h0" stroke="#ee7b30" stroke-width="6" stroke-linecap="round"/>
<g fill="none" stroke="#0a0a0a" stroke-linecap="square" stroke-linejoin="round"><path d="M1484.9 626.9 L1495.0 623.3" stroke-width="4.6"/><path d="M1480.4 636.8 L1497.3 633.9" stroke-width="4.6"/><path d="M1491.9 630.8 L1492.1 659.5" stroke-width="4.6"/><path d="M1491.5 639.5 L1483.5 652.2" stroke-width="4.6"/><path d="M1494.5 643.0 L1498.5 646.5" stroke-width="4.6"/><path d="M1499.8 647.6 L1523.4 642.7" stroke-width="4.6"/><path d="M1502.5 627.4 L1509.9 629.6" stroke-width="4.6"/><path d="M1502.9 635.9 L1510.4 638.6" stroke-width="4.6"/><path d="M1517.0 624.0 L1517.4 661.0" stroke-width="5.2"/><path d="M1528.2 633.6 L1538.8 632.0" stroke-width="4.6"/><path d="M1535.1 627.4 L1535.4 653.0" stroke-width="4.6"/><path d="M1528.2 649.4 L1539.7 645.4" stroke-width="4.6"/><path d="M1542.2 633.1 L1557.7 632.9" stroke-width="4.6"/><path d="M1549.5 626.5 L1549.9 641.3" stroke-width="4.6"/><path d="M1543.1 642.1 L1556.8 641.0" stroke-width="4.6"/><path d="M1555.7 642.0 L1544.7 650.3" stroke-width="4.6"/><path d="M1546.5 645.5 L1559.6 653.0" stroke-width="4.6"/><path d="M1564.8 637.7 L1593.8 635.0" stroke-width="4.6"/><path d="M1579.8 624.2 L1577.4 641.1 L1569.1 654.0" stroke-width="4.6"/><path d="M1581.0 643.8 L1595.6 655.7" stroke-width="4.6"/><path d="M1590.0 625.6 L1596.6 629.6" stroke-width="4.6"/><circle cx="1582.5" cy="644.5" r="2.6" fill="#0a0a0a" stroke="none"/><circle cx="1595" cy="657" r="2.6" fill="#0a0a0a" stroke="none"/></g>
<line x1="490.8" y1="322" x2="490.8" y2="652" stroke="#000" stroke-width="2"/>
<rect x="482.5" y="326.5" width="134" height="326" fill="none" stroke="#000" stroke-width="7"/>
<rect x="691.5" y="328.5" width="882" height="328" fill="none" stroke="#000" stroke-width="7"/>
<text x="495.4" y="369.0" font-size="18.5" fill="#111" text-anchor="start" font-weight="normal" textLength="79.2" lengthAdjust="spacingAndGlyphs">07:06:000</text>
<text x="495.4" y="388.75" font-size="14.5" fill="#111" text-anchor="start" font-weight="normal" textLength="24.0" lengthAdjust="spacingAndGlyphs">FPS</text>
<text x="609.5" y="388.75" font-size="14.5" fill="#1a1a1a" text-anchor="start" font-weight="normal">:</text>
<text x="617.5" y="388.75" font-size="14.5" fill="#1a1a1a" text-anchor="start" font-weight="normal">43.9</text>
<text x="495.4" y="408.35" font-size="14.5" fill="#111" text-anchor="start" font-weight="normal" textLength="30.2" lengthAdjust="spacingAndGlyphs">Jank</text>
<text x="609.5" y="408.35" font-size="14.5" fill="#1a1a1a" text-anchor="start" font-weight="normal">:</text>
<text x="617.5" y="408.35" font-size="14.5" fill="#1a1a1a" text-anchor="start" font-weight="normal">0</text>
<text x="495.4" y="427.95" font-size="14.5" fill="#111" text-anchor="start" font-weight="normal" textLength="53.1" lengthAdjust="spacingAndGlyphs">BigJank</text>
<text x="609.5" y="427.95" font-size="14.5" fill="#1a1a1a" text-anchor="start" font-weight="normal">:</text>
<text x="617.5" y="427.95" font-size="14.5" fill="#1a1a1a" text-anchor="start" font-weight="normal">0</text>
<text x="495.4" y="447.55" font-size="14.5" fill="#111" text-anchor="start" font-weight="normal" textLength="47.9" lengthAdjust="spacingAndGlyphs">Stutter</text>
<text x="609.5" y="447.55" font-size="14.5" fill="#1a1a1a" text-anchor="start" font-weight="normal">:</text>
<text x="617.5" y="447.55" font-size="14.5" fill="#1a1a1a" text-anchor="start" font-weight="normal">0%</text>
<text x="495.4" y="467.15" font-size="14.5" fill="#111" text-anchor="start" font-weight="normal" textLength="76.1" lengthAdjust="spacingAndGlyphs">InterFrame</text>
<text x="609.5" y="467.15" font-size="14.5" fill="#1a1a1a" text-anchor="start" font-weight="normal">:</text>
<text x="617.5" y="467.15" font-size="14.5" fill="#1a1a1a" text-anchor="start" font-weight="normal">0</text>
<text x="495.4" y="486.75" font-size="14.5" fill="#111" text-anchor="start" font-weight="normal" textLength="114.6" lengthAdjust="spacingAndGlyphs">FPS+InterFrame</text>
<text x="609.5" y="486.75" font-size="14.5" fill="#1a1a1a" text-anchor="start" font-weight="normal">:</text>
<text x="617.5" y="486.75" font-size="14.5" fill="#1a1a1a" text-anchor="start" font-weight="normal">43.9</text>
<defs><linearGradient id="sb" x1="0" y1="0" x2="0" y2="1"><stop offset="0" stop-color="#62bdf6"/><stop offset="0.4" stop-color="#2ea9f6"/><stop offset="1" stop-color="#2ba6f2"/></linearGradient><linearGradient id="hd" x1="0" y1="0" x2="1" y2="0"><stop offset="0" stop-color="#f6f6f8"/><stop offset="0.7" stop-color="#e6e6ea"/><stop offset="1" stop-color="#c8c8cc"/></linearGradient></defs>
<line x1="1576" y1="684.5" x2="1629" y2="684.5" stroke="#eeeeee" stroke-width="1"/>
<rect x="118" y="687.8" width="1432" height="16.6" fill="url(#sb)"/>
<rect x="118" y="687.8" width="1432" height="1" fill="#5a9fcc" opacity="0.8"/>
<rect x="118" y="703.6" width="1432" height="1" fill="#3d98c8" opacity="0.8"/>
<rect x="92.5" y="684.8" width="26" height="23.6" rx="1.5" fill="url(#hd)" stroke="#b8b8bc" stroke-width="1"/>
<rect x="100.2" y="691" width="2" height="10" fill="#8a90a6"/>
<rect x="104.2" y="691" width="2" height="10" fill="#8a90a6"/>
<rect x="108.2" y="691" width="2" height="10" fill="#8a90a6"/>
<rect x="1549.5" y="684.8" width="26" height="23.6" rx="1.5" fill="url(#hd)" stroke="#b8b8bc" stroke-width="1"/>
<rect x="1557.2" y="691" width="2" height="10" fill="#8a90a6"/>
<rect x="1561.2" y="691" width="2" height="10" fill="#8a90a6"/>
<rect x="1565.2" y="691" width="2" height="10" fill="#8a90a6"/>
<rect x="0" y="0" width="3.5" height="720" fill="#efeffa"/>
<rect x="3" y="0" width="1" height="720" fill="#e4e4ee"/>
<rect x="0" y="719" width="1645" height="1" fill="#dcdce2"/>
</svg>
</body></html>
